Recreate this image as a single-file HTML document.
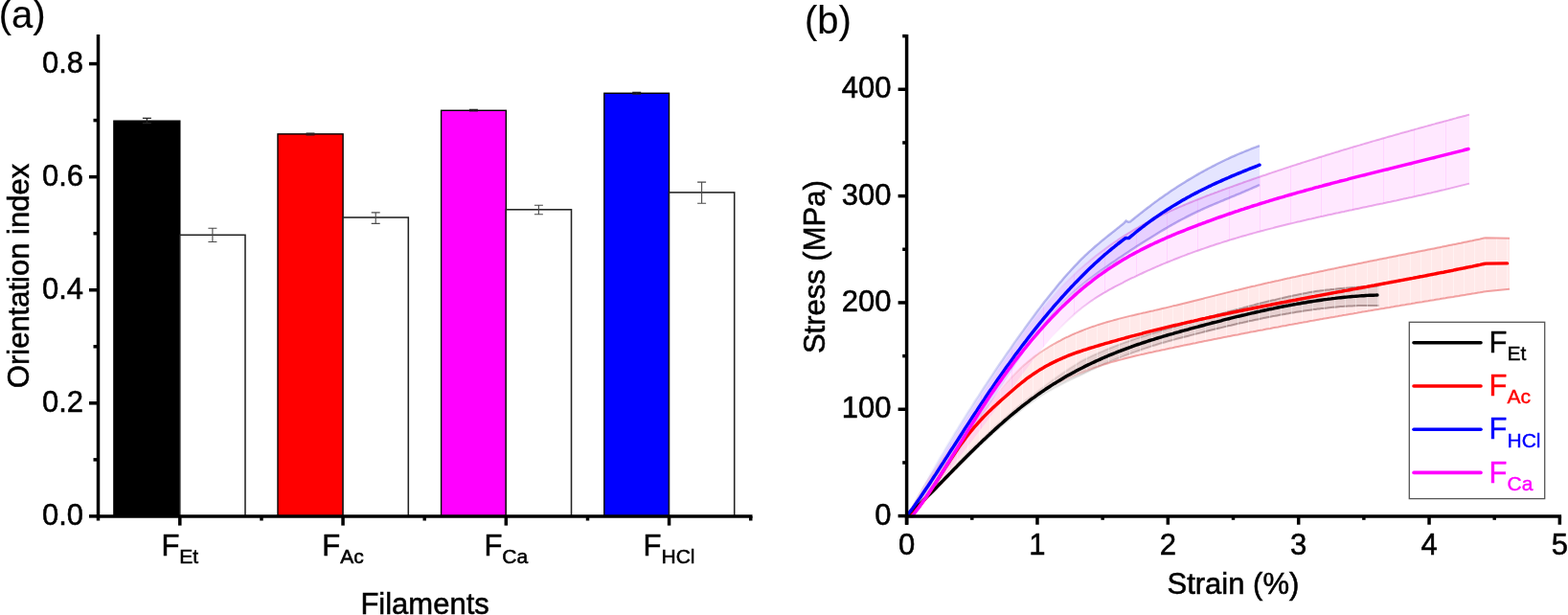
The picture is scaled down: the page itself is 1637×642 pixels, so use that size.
<!DOCTYPE html>
<html><head><meta charset="utf-8"><title>Figure</title>
<style>html,body{margin:0;padding:0;background:#fff;}svg{display:block;}text{font-family:'Liberation Sans', Arial, sans-serif;fill:#000;stroke:#000;stroke-width:0.55px;}</style></head><body>
<svg width="1637" height="642" viewBox="0 0 1637 642">
<rect width="1637" height="642" fill="#fff"/>
<rect x="118.9" y="126.2" width="68.9" height="412.7" fill="#000000" stroke="#000" stroke-width="1.4"/>
<rect x="187.8" y="245.3" width="68.2" height="293.6" fill="#fff" stroke="#222" stroke-width="1.55"/>
<path d="M221.9,238.3V252.5M217.4,238.3H226.4M217.4,252.5H226.4" stroke="#4a4a4a" stroke-width="1.1" fill="none"/>
<path d="M153.4,123.4V128.6M148.9,123.4H157.9M148.9,128.6H157.9" stroke="#222" stroke-width="1.2" fill="none"/>
<rect x="290.0" y="139.9" width="68.1" height="399.0" fill="#ff0000" stroke="#000" stroke-width="1.4"/>
<rect x="358.1" y="227.0" width="68.2" height="311.9" fill="#fff" stroke="#222" stroke-width="1.55"/>
<path d="M392.2,221.9V233.4M387.7,221.9H396.7M387.7,233.4H396.7" stroke="#4a4a4a" stroke-width="1.1" fill="none"/>
<path d="M324.0,139.2V141.0M319.5,139.2H328.5M319.5,141.0H328.5" stroke="#222" stroke-width="1.2" fill="none"/>
<rect x="460.6" y="115.3" width="67.7" height="423.6" fill="#ff00ff" stroke="#000" stroke-width="1.4"/>
<rect x="528.3" y="218.8" width="68.2" height="320.1" fill="#fff" stroke="#222" stroke-width="1.55"/>
<path d="M562.4,214.3V223.8M557.9,214.3H566.9M557.9,223.8H566.9" stroke="#4a4a4a" stroke-width="1.1" fill="none"/>
<path d="M494.4,114.3V115.9M489.9,114.3H498.9M489.9,115.9H498.9" stroke="#222" stroke-width="1.2" fill="none"/>
<rect x="630.8" y="97.3" width="67.7" height="441.6" fill="#0000ff" stroke="#000" stroke-width="1.4"/>
<rect x="698.5" y="200.9" width="68.2" height="338.0" fill="#fff" stroke="#222" stroke-width="1.55"/>
<path d="M732.6,190.1V212.3M728.1,190.1H737.1M728.1,212.3H737.1" stroke="#4a4a4a" stroke-width="1.1" fill="none"/>
<path d="M664.7,96.4V98.2M660.2,96.4H669.2M660.2,98.2H669.2" stroke="#222" stroke-width="1.2" fill="none"/>
<path d="M102.50,36V543.5" stroke="#000" stroke-width="3.5" fill="none"/>
<path d="M100.75,538.90H785.5" stroke="#000" stroke-width="3.5" fill="none"/>
<path d="M93,538.90H102.50" stroke="#000" stroke-width="3.5"/>
<text x="87" y="548.40" text-anchor="end" font-size="31">0.0</text>
<path d="M93,420.82H102.50" stroke="#000" stroke-width="3.5"/>
<text x="87" y="430.32" text-anchor="end" font-size="31">0.2</text>
<path d="M93,302.74H102.50" stroke="#000" stroke-width="3.5"/>
<text x="87" y="312.24" text-anchor="end" font-size="31">0.4</text>
<path d="M93,184.66H102.50" stroke="#000" stroke-width="3.5"/>
<text x="87" y="194.16" text-anchor="end" font-size="31">0.6</text>
<path d="M93,66.58H102.50" stroke="#000" stroke-width="3.5"/>
<text x="87" y="76.08" text-anchor="end" font-size="31">0.8</text>
<path d="M97.5,479.86H102.50" stroke="#000" stroke-width="3.5"/>
<path d="M97.5,361.78H102.50" stroke="#000" stroke-width="3.5"/>
<path d="M97.5,243.70H102.50" stroke="#000" stroke-width="3.5"/>
<path d="M97.5,125.62H102.50" stroke="#000" stroke-width="3.5"/>
<path d="M187.80,538.90V548.6" stroke="#000" stroke-width="3.5"/>
<path d="M358.05,538.90V548.6" stroke="#000" stroke-width="3.5"/>
<path d="M528.30,538.90V548.6" stroke="#000" stroke-width="3.5"/>
<path d="M698.55,538.90V548.6" stroke="#000" stroke-width="3.5"/>
<path d="M273.00,538.90V543.5" stroke="#000" stroke-width="3.5"/>
<path d="M443.25,538.90V543.5" stroke="#000" stroke-width="3.5"/>
<path d="M613.50,538.90V543.5" stroke="#000" stroke-width="3.5"/>
<path d="M783.75,538.90V543.5" stroke="#000" stroke-width="3.5"/>
<text x="187.80" y="580" text-anchor="middle" font-size="31">F<tspan font-size="21" dy="8.2">Et</tspan></text>
<text x="358.05" y="580" text-anchor="middle" font-size="31">F<tspan font-size="21" dy="8.2">Ac</tspan></text>
<text x="528.30" y="580" text-anchor="middle" font-size="31">F<tspan font-size="21" dy="8.2">Ca</tspan></text>
<text x="698.55" y="580" text-anchor="middle" font-size="31">F<tspan font-size="21" dy="8.2">HCl</tspan></text>
<text x="443.6" y="641" text-anchor="middle" font-size="31">Filaments</text>
<text transform="translate(29.7,288) rotate(-90)" x="0" y="0" text-anchor="middle" font-size="31">Orientation index</text>
<text x="-1.3" y="29.4" font-size="40" style="stroke-width:0.15px">(a)</text>
<path d="M946.6,538.1 L948.6,536.2 L950.6,534.3 L952.6,532.4 L954.7,530.4 L956.7,528.4 L958.7,526.4 L960.7,524.4 L962.7,522.3 L964.7,520.3 L966.7,518.2 L968.7,516.1 L970.8,513.9 L972.8,511.8 L974.8,509.6 L976.8,507.5 L978.8,505.3 L980.8,503.1 L982.8,500.9 L984.9,498.7 L986.9,496.5 L988.9,494.3 L990.9,492.1 L992.9,490.0 L994.9,487.8 L996.9,485.6 L999.0,483.4 L1001.0,481.3 L1003.0,479.3 L1005.0,477.2 L1007.0,475.2 L1009.0,473.1 L1011.0,471.1 L1013.0,469.1 L1015.1,467.1 L1017.1,465.1 L1019.1,463.1 L1021.1,461.1 L1023.1,459.2 L1025.1,457.2 L1027.1,455.3 L1029.2,453.4 L1031.2,451.5 L1033.2,449.6 L1035.2,447.7 L1037.2,445.8 L1039.2,443.9 L1041.2,442.1 L1043.2,440.3 L1045.3,438.5 L1047.3,436.7 L1049.3,434.9 L1051.3,433.1 L1053.3,431.4 L1055.3,429.7 L1057.3,428.0 L1059.4,426.3 L1061.4,424.6 L1063.4,422.9 L1065.4,421.3 L1067.4,419.7 L1069.4,418.1 L1071.4,416.5 L1073.5,414.9 L1075.5,413.4 L1077.5,411.9 L1079.5,410.4 L1081.5,408.9 L1083.5,407.5 L1085.5,406.0 L1087.5,404.6 L1089.6,403.2 L1091.6,401.7 L1093.6,400.2 L1095.6,398.8 L1097.6,397.3 L1099.6,395.9 L1101.6,394.5 L1103.7,393.1 L1105.7,391.7 L1107.7,390.3 L1109.7,389.0 L1111.7,387.7 L1113.7,386.4 L1115.7,385.1 L1117.7,383.8 L1119.8,382.5 L1121.8,381.3 L1123.8,380.1 L1125.8,378.8 L1127.8,377.6 L1129.8,376.5 L1131.8,375.5 L1133.9,374.5 L1135.9,373.5 L1137.9,372.6 L1139.9,371.6 L1141.9,370.7 L1143.9,369.8 L1145.9,368.9 L1148.0,368.0 L1150.0,367.2 L1152.0,366.3 L1154.0,365.4 L1156.0,364.6 L1158.0,363.8 L1160.0,363.0 L1162.0,362.2 L1164.1,361.4 L1166.1,360.6 L1168.1,359.9 L1170.1,359.1 L1172.1,358.4 L1174.1,357.6 L1176.1,356.9 L1178.2,356.2 L1180.2,355.5 L1182.2,354.8 L1184.2,354.1 L1186.2,353.4 L1188.2,352.8 L1190.2,352.1 L1192.2,351.5 L1194.3,350.8 L1196.3,350.2 L1198.3,349.5 L1200.3,348.9 L1202.3,348.3 L1204.3,347.7 L1206.3,347.1 L1208.4,346.5 L1210.4,345.9 L1212.4,345.3 L1214.4,344.6 L1216.4,344.0 L1218.4,343.4 L1220.4,342.8 L1222.5,342.2 L1224.5,341.6 L1226.5,341.0 L1228.5,340.4 L1230.5,339.8 L1232.5,339.2 L1234.5,338.6 L1236.5,338.0 L1238.6,337.5 L1240.6,336.9 L1242.6,336.3 L1244.6,335.8 L1246.6,335.2 L1248.6,334.6 L1250.6,334.1 L1252.7,333.5 L1254.7,332.9 L1256.7,332.4 L1258.7,331.8 L1260.7,331.3 L1262.7,330.7 L1264.7,330.2 L1266.8,329.6 L1268.8,329.1 L1270.8,328.5 L1272.8,328.0 L1274.8,327.4 L1276.8,326.9 L1278.8,326.4 L1280.8,325.8 L1282.9,325.3 L1284.9,324.8 L1286.9,324.3 L1288.9,323.7 L1290.9,323.2 L1292.9,322.7 L1294.9,322.1 L1297.0,321.6 L1299.0,321.0 L1301.0,320.5 L1303.0,319.9 L1305.0,319.4 L1307.0,318.9 L1309.0,318.4 L1311.0,317.8 L1313.1,317.3 L1315.1,316.8 L1317.1,316.3 L1319.1,315.8 L1321.1,315.3 L1323.1,314.8 L1325.1,314.3 L1327.2,313.8 L1329.2,313.3 L1331.2,312.9 L1333.2,312.4 L1335.2,311.9 L1337.2,311.4 L1339.2,311.0 L1341.3,310.5 L1343.3,310.1 L1345.3,309.6 L1347.3,309.2 L1349.3,308.8 L1351.3,308.3 L1353.3,307.9 L1355.3,307.5 L1357.4,307.1 L1359.4,306.7 L1361.4,306.3 L1363.4,305.9 L1365.4,305.5 L1367.4,305.1 L1369.4,304.7 L1371.5,304.4 L1373.5,304.1 L1375.5,303.8 L1377.5,303.6 L1379.5,303.3 L1381.5,303.1 L1383.5,302.8 L1385.5,302.6 L1387.6,302.4 L1389.6,302.1 L1391.6,301.9 L1393.6,301.7 L1395.6,301.5 L1397.6,301.3 L1399.6,301.1 L1401.7,300.9 L1403.7,300.7 L1405.7,300.6 L1407.7,300.4 L1409.7,300.2 L1411.7,300.0 L1413.7,299.9 L1415.8,299.7 L1417.8,299.6 L1419.8,299.4 L1421.8,299.3 L1423.8,299.2 L1425.8,299.0 L1427.8,298.9 L1429.8,298.8 L1431.9,298.7 L1433.9,298.7 L1435.9,298.6 L1437.9,298.5 L1439.4,298.5 L1439.4,318.9 L1437.9,318.9 L1435.9,318.9 L1433.9,318.9 L1431.9,318.9 L1429.8,318.9 L1427.8,318.9 L1425.8,318.9 L1423.8,319.0 L1421.8,319.0 L1419.8,319.1 L1417.8,319.1 L1415.8,319.2 L1413.7,319.3 L1411.7,319.4 L1409.7,319.4 L1407.7,319.5 L1405.7,319.7 L1403.7,319.8 L1401.7,320.0 L1399.6,320.1 L1397.6,320.3 L1395.6,320.5 L1393.6,320.7 L1391.6,320.8 L1389.6,321.0 L1387.6,321.2 L1385.5,321.5 L1383.5,321.7 L1381.5,321.9 L1379.5,322.1 L1377.5,322.4 L1375.5,322.6 L1373.5,322.9 L1371.5,323.1 L1369.4,323.4 L1367.4,323.7 L1365.4,324.0 L1363.4,324.3 L1361.4,324.6 L1359.4,324.9 L1357.4,325.2 L1355.3,325.5 L1353.3,325.8 L1351.3,326.2 L1349.3,326.5 L1347.3,326.8 L1345.3,327.2 L1343.3,327.5 L1341.3,327.9 L1339.2,328.3 L1337.2,328.6 L1335.2,329.0 L1333.2,329.4 L1331.2,329.8 L1329.2,330.1 L1327.2,330.5 L1325.1,330.9 L1323.1,331.3 L1321.1,331.7 L1319.1,332.1 L1317.1,332.6 L1315.1,333.0 L1313.1,333.4 L1311.0,333.8 L1309.0,334.2 L1307.0,334.7 L1305.0,335.1 L1303.0,335.5 L1301.0,336.0 L1299.0,336.4 L1297.0,336.9 L1294.9,337.3 L1292.9,337.8 L1290.9,338.2 L1288.9,338.7 L1286.9,339.2 L1284.9,339.7 L1282.9,340.1 L1280.8,340.6 L1278.8,341.1 L1276.8,341.6 L1274.8,342.1 L1272.8,342.6 L1270.8,343.0 L1268.8,343.5 L1266.8,344.0 L1264.7,344.5 L1262.7,345.0 L1260.7,345.5 L1258.7,346.0 L1256.7,346.5 L1254.7,347.1 L1252.7,347.6 L1250.6,348.1 L1248.6,348.6 L1246.6,349.1 L1244.6,349.6 L1242.6,350.1 L1240.6,350.7 L1238.6,351.2 L1236.5,351.7 L1234.5,352.2 L1232.5,352.8 L1230.5,353.3 L1228.5,353.8 L1226.5,354.4 L1224.5,354.9 L1222.5,355.5 L1220.4,356.0 L1218.4,356.6 L1216.4,357.2 L1214.4,357.8 L1212.4,358.3 L1210.4,358.9 L1208.4,359.5 L1206.3,360.2 L1204.3,360.8 L1202.3,361.4 L1200.3,362.1 L1198.3,362.8 L1196.3,363.4 L1194.3,364.1 L1192.2,364.8 L1190.2,365.5 L1188.2,366.2 L1186.2,366.9 L1184.2,367.6 L1182.2,368.3 L1180.2,369.1 L1178.2,369.8 L1176.1,370.5 L1174.1,371.3 L1172.1,372.1 L1170.1,372.9 L1168.1,373.7 L1166.1,374.5 L1164.1,375.3 L1162.0,376.1 L1160.0,376.9 L1158.0,377.8 L1156.0,378.6 L1154.0,379.5 L1152.0,380.4 L1150.0,381.3 L1148.0,382.2 L1145.9,383.1 L1143.9,384.0 L1141.9,385.0 L1139.9,385.9 L1137.9,386.9 L1135.9,387.9 L1133.9,388.9 L1131.8,389.9 L1129.8,390.9 L1127.8,391.8 L1125.8,392.8 L1123.8,393.7 L1121.8,394.7 L1119.8,395.6 L1117.7,396.6 L1115.7,397.6 L1113.7,398.6 L1111.7,399.7 L1109.7,400.7 L1107.7,401.8 L1105.7,402.9 L1103.7,404.0 L1101.6,405.1 L1099.6,406.2 L1097.6,407.4 L1095.6,408.5 L1093.6,409.7 L1091.6,410.9 L1089.6,412.2 L1087.5,413.5 L1085.5,414.9 L1083.5,416.3 L1081.5,417.7 L1079.5,419.2 L1077.5,420.6 L1075.5,422.1 L1073.5,423.6 L1071.4,425.1 L1069.4,426.6 L1067.4,428.2 L1065.4,429.7 L1063.4,431.3 L1061.4,432.9 L1059.4,434.6 L1057.3,436.2 L1055.3,437.9 L1053.3,439.6 L1051.3,441.3 L1049.3,443.0 L1047.3,444.7 L1045.3,446.5 L1043.2,448.2 L1041.2,450.0 L1039.2,451.8 L1037.2,453.6 L1035.2,455.5 L1033.2,457.3 L1031.2,459.1 L1029.2,461.0 L1027.1,462.9 L1025.1,464.8 L1023.1,466.7 L1021.1,468.6 L1019.1,470.5 L1017.1,472.5 L1015.1,474.4 L1013.0,476.4 L1011.0,478.3 L1009.0,480.3 L1007.0,482.3 L1005.0,484.3 L1003.0,486.3 L1001.0,488.3 L999.0,490.3 L996.9,492.3 L994.9,494.2 L992.9,496.2 L990.9,498.1 L988.9,500.1 L986.9,502.1 L984.9,504.0 L982.8,506.0 L980.8,508.0 L978.8,509.9 L976.8,511.9 L974.8,513.8 L972.8,515.8 L970.8,517.7 L968.7,519.6 L966.7,521.5 L964.7,523.3 L962.7,525.2 L960.7,527.0 L958.7,528.8 L956.7,530.6 L954.7,532.4 L952.6,534.1 L950.6,535.8 L948.6,537.5 L946.6,539.1 Z" fill="#000000" fill-opacity="0.100" stroke="none"/>
<linearGradient id="g1" gradientUnits="userSpaceOnUse" x1="1080.0" y1="0" x2="1260.0" y2="0"><stop offset="0" stop-color="#221111" stop-opacity="0"/><stop offset="1" stop-color="#221111" stop-opacity="0.36"/></linearGradient>
<linearGradient id="g2" gradientUnits="userSpaceOnUse" x1="1080.0" y1="0" x2="1260.0" y2="0"><stop offset="0" stop-color="#221111" stop-opacity="0"/><stop offset="1" stop-color="#221111" stop-opacity="0.36"/></linearGradient>
<path d="M946.6,538.1 L948.6,536.2 L950.6,534.3 L952.6,532.4 L954.7,530.4 L956.7,528.4 L958.7,526.4 L960.7,524.4 L962.7,522.3 L964.7,520.3 L966.7,518.2 L968.7,516.1 L970.8,513.9 L972.8,511.8 L974.8,509.6 L976.8,507.5 L978.8,505.3 L980.8,503.1 L982.8,500.9 L984.9,498.7 L986.9,496.5 L988.9,494.3 L990.9,492.1 L992.9,490.0 L994.9,487.8 L996.9,485.6 L999.0,483.4 L1001.0,481.3 L1003.0,479.3 L1005.0,477.2 L1007.0,475.2 L1009.0,473.1 L1011.0,471.1 L1013.0,469.1 L1015.1,467.1 L1017.1,465.1 L1019.1,463.1 L1021.1,461.1 L1023.1,459.2 L1025.1,457.2 L1027.1,455.3 L1029.2,453.4 L1031.2,451.5 L1033.2,449.6 L1035.2,447.7 L1037.2,445.8 L1039.2,443.9 L1041.2,442.1 L1043.2,440.3 L1045.3,438.5 L1047.3,436.7 L1049.3,434.9 L1051.3,433.1 L1053.3,431.4 L1055.3,429.7 L1057.3,428.0 L1059.4,426.3 L1061.4,424.6 L1063.4,422.9 L1065.4,421.3 L1067.4,419.7 L1069.4,418.1 L1071.4,416.5 L1073.5,414.9 L1075.5,413.4 L1077.5,411.9 L1079.5,410.4 L1081.5,408.9 L1083.5,407.5 L1085.5,406.0 L1087.5,404.6 L1089.6,403.2 L1091.6,401.7 L1093.6,400.2 L1095.6,398.8 L1097.6,397.3 L1099.6,395.9 L1101.6,394.5 L1103.7,393.1 L1105.7,391.7 L1107.7,390.3 L1109.7,389.0 L1111.7,387.7 L1113.7,386.4 L1115.7,385.1 L1117.7,383.8 L1119.8,382.5 L1121.8,381.3 L1123.8,380.1 L1125.8,378.8 L1127.8,377.6 L1129.8,376.5 L1131.8,375.5 L1133.9,374.5 L1135.9,373.5 L1137.9,372.6 L1139.9,371.6 L1141.9,370.7 L1143.9,369.8 L1145.9,368.9 L1148.0,368.0 L1150.0,367.2 L1152.0,366.3 L1154.0,365.4 L1156.0,364.6 L1158.0,363.8 L1160.0,363.0 L1162.0,362.2 L1164.1,361.4 L1166.1,360.6 L1168.1,359.9 L1170.1,359.1 L1172.1,358.4 L1174.1,357.6 L1176.1,356.9 L1178.2,356.2 L1180.2,355.5 L1182.2,354.8 L1184.2,354.1 L1186.2,353.4 L1188.2,352.8 L1190.2,352.1 L1192.2,351.5 L1194.3,350.8 L1196.3,350.2 L1198.3,349.5 L1200.3,348.9 L1202.3,348.3 L1204.3,347.7 L1206.3,347.1 L1208.4,346.5 L1210.4,345.9 L1212.4,345.3 L1214.4,344.6 L1216.4,344.0 L1218.4,343.4 L1220.4,342.8 L1222.5,342.2 L1224.5,341.6 L1226.5,341.0 L1228.5,340.4 L1230.5,339.8 L1232.5,339.2 L1234.5,338.6 L1236.5,338.0 L1238.6,337.5 L1240.6,336.9 L1242.6,336.3 L1244.6,335.8 L1246.6,335.2 L1248.6,334.6 L1250.6,334.1 L1252.7,333.5 L1254.7,332.9 L1256.7,332.4 L1258.7,331.8 L1260.7,331.3 L1262.7,330.7 L1264.7,330.2 L1266.8,329.6 L1268.8,329.1 L1270.8,328.5 L1272.8,328.0 L1274.8,327.4 L1276.8,326.9 L1278.8,326.4 L1280.8,325.8 L1282.9,325.3 L1284.9,324.8 L1286.9,324.3 L1288.9,323.7 L1290.9,323.2 L1292.9,322.7 L1294.9,322.1 L1297.0,321.6 L1299.0,321.0 L1301.0,320.5 L1303.0,319.9 L1305.0,319.4 L1307.0,318.9 L1309.0,318.4 L1311.0,317.8 L1313.1,317.3 L1315.1,316.8 L1317.1,316.3 L1319.1,315.8 L1321.1,315.3 L1323.1,314.8 L1325.1,314.3 L1327.2,313.8 L1329.2,313.3 L1331.2,312.9 L1333.2,312.4 L1335.2,311.9 L1337.2,311.4 L1339.2,311.0 L1341.3,310.5 L1343.3,310.1 L1345.3,309.6 L1347.3,309.2 L1349.3,308.8 L1351.3,308.3 L1353.3,307.9 L1355.3,307.5 L1357.4,307.1 L1359.4,306.7 L1361.4,306.3 L1363.4,305.9 L1365.4,305.5 L1367.4,305.1 L1369.4,304.7 L1371.5,304.4 L1373.5,304.1 L1375.5,303.8 L1377.5,303.6 L1379.5,303.3 L1381.5,303.1 L1383.5,302.8 L1385.5,302.6 L1387.6,302.4 L1389.6,302.1 L1391.6,301.9 L1393.6,301.7 L1395.6,301.5 L1397.6,301.3 L1399.6,301.1 L1401.7,300.9 L1403.7,300.7 L1405.7,300.6 L1407.7,300.4 L1409.7,300.2 L1411.7,300.0 L1413.7,299.9 L1415.8,299.7 L1417.8,299.6 L1419.8,299.4 L1421.8,299.3 L1423.8,299.2 L1425.8,299.0 L1427.8,298.9 L1429.8,298.8 L1431.9,298.7 L1433.9,298.7 L1435.9,298.6 L1437.9,298.5 L1439.4,298.5" fill="none" stroke="url(#g1)" stroke-width="2.0"/>
<path d="M946.6,539.1 L948.6,537.5 L950.6,535.8 L952.6,534.1 L954.7,532.4 L956.7,530.6 L958.7,528.8 L960.7,527.0 L962.7,525.2 L964.7,523.3 L966.7,521.5 L968.7,519.6 L970.8,517.7 L972.8,515.8 L974.8,513.8 L976.8,511.9 L978.8,509.9 L980.8,508.0 L982.8,506.0 L984.9,504.0 L986.9,502.1 L988.9,500.1 L990.9,498.1 L992.9,496.2 L994.9,494.2 L996.9,492.3 L999.0,490.3 L1001.0,488.3 L1003.0,486.3 L1005.0,484.3 L1007.0,482.3 L1009.0,480.3 L1011.0,478.3 L1013.0,476.4 L1015.1,474.4 L1017.1,472.5 L1019.1,470.5 L1021.1,468.6 L1023.1,466.7 L1025.1,464.8 L1027.1,462.9 L1029.2,461.0 L1031.2,459.1 L1033.2,457.3 L1035.2,455.5 L1037.2,453.6 L1039.2,451.8 L1041.2,450.0 L1043.2,448.2 L1045.3,446.5 L1047.3,444.7 L1049.3,443.0 L1051.3,441.3 L1053.3,439.6 L1055.3,437.9 L1057.3,436.2 L1059.4,434.6 L1061.4,432.9 L1063.4,431.3 L1065.4,429.7 L1067.4,428.2 L1069.4,426.6 L1071.4,425.1 L1073.5,423.6 L1075.5,422.1 L1077.5,420.6 L1079.5,419.2 L1081.5,417.7 L1083.5,416.3 L1085.5,414.9 L1087.5,413.5 L1089.6,412.2 L1091.6,410.9 L1093.6,409.7 L1095.6,408.5 L1097.6,407.4 L1099.6,406.2 L1101.6,405.1 L1103.7,404.0 L1105.7,402.9 L1107.7,401.8 L1109.7,400.7 L1111.7,399.7 L1113.7,398.6 L1115.7,397.6 L1117.7,396.6 L1119.8,395.6 L1121.8,394.7 L1123.8,393.7 L1125.8,392.8 L1127.8,391.8 L1129.8,390.9 L1131.8,389.9 L1133.9,388.9 L1135.9,387.9 L1137.9,386.9 L1139.9,385.9 L1141.9,385.0 L1143.9,384.0 L1145.9,383.1 L1148.0,382.2 L1150.0,381.3 L1152.0,380.4 L1154.0,379.5 L1156.0,378.6 L1158.0,377.8 L1160.0,376.9 L1162.0,376.1 L1164.1,375.3 L1166.1,374.5 L1168.1,373.7 L1170.1,372.9 L1172.1,372.1 L1174.1,371.3 L1176.1,370.5 L1178.2,369.8 L1180.2,369.1 L1182.2,368.3 L1184.2,367.6 L1186.2,366.9 L1188.2,366.2 L1190.2,365.5 L1192.2,364.8 L1194.3,364.1 L1196.3,363.4 L1198.3,362.8 L1200.3,362.1 L1202.3,361.4 L1204.3,360.8 L1206.3,360.2 L1208.4,359.5 L1210.4,358.9 L1212.4,358.3 L1214.4,357.8 L1216.4,357.2 L1218.4,356.6 L1220.4,356.0 L1222.5,355.5 L1224.5,354.9 L1226.5,354.4 L1228.5,353.8 L1230.5,353.3 L1232.5,352.8 L1234.5,352.2 L1236.5,351.7 L1238.6,351.2 L1240.6,350.7 L1242.6,350.1 L1244.6,349.6 L1246.6,349.1 L1248.6,348.6 L1250.6,348.1 L1252.7,347.6 L1254.7,347.1 L1256.7,346.5 L1258.7,346.0 L1260.7,345.5 L1262.7,345.0 L1264.7,344.5 L1266.8,344.0 L1268.8,343.5 L1270.8,343.0 L1272.8,342.6 L1274.8,342.1 L1276.8,341.6 L1278.8,341.1 L1280.8,340.6 L1282.9,340.1 L1284.9,339.7 L1286.9,339.2 L1288.9,338.7 L1290.9,338.2 L1292.9,337.8 L1294.9,337.3 L1297.0,336.9 L1299.0,336.4 L1301.0,336.0 L1303.0,335.5 L1305.0,335.1 L1307.0,334.7 L1309.0,334.2 L1311.0,333.8 L1313.1,333.4 L1315.1,333.0 L1317.1,332.6 L1319.1,332.1 L1321.1,331.7 L1323.1,331.3 L1325.1,330.9 L1327.2,330.5 L1329.2,330.1 L1331.2,329.8 L1333.2,329.4 L1335.2,329.0 L1337.2,328.6 L1339.2,328.3 L1341.3,327.9 L1343.3,327.5 L1345.3,327.2 L1347.3,326.8 L1349.3,326.5 L1351.3,326.2 L1353.3,325.8 L1355.3,325.5 L1357.4,325.2 L1359.4,324.9 L1361.4,324.6 L1363.4,324.3 L1365.4,324.0 L1367.4,323.7 L1369.4,323.4 L1371.5,323.1 L1373.5,322.9 L1375.5,322.6 L1377.5,322.4 L1379.5,322.1 L1381.5,321.9 L1383.5,321.7 L1385.5,321.5 L1387.6,321.2 L1389.6,321.0 L1391.6,320.8 L1393.6,320.7 L1395.6,320.5 L1397.6,320.3 L1399.6,320.1 L1401.7,320.0 L1403.7,319.8 L1405.7,319.7 L1407.7,319.5 L1409.7,319.4 L1411.7,319.4 L1413.7,319.3 L1415.8,319.2 L1417.8,319.1 L1419.8,319.1 L1421.8,319.0 L1423.8,319.0 L1425.8,318.9 L1427.8,318.9 L1429.8,318.9 L1431.9,318.9 L1433.9,318.9 L1435.9,318.9 L1437.9,318.9 L1439.4,318.9" fill="none" stroke="url(#g2)" stroke-width="2.0"/>
<path d="M946.6,538.6 L948.6,534.5 L950.6,530.5 L952.6,526.6 L954.6,522.8 L956.6,519.2 L958.7,515.6 L960.7,512.2 L962.7,508.8 L964.7,505.6 L966.7,502.4 L968.7,499.3 L970.7,496.3 L972.7,493.3 L974.7,490.5 L976.7,487.7 L978.7,484.9 L980.7,482.2 L982.8,479.6 L984.8,477.0 L986.8,474.5 L988.8,472.0 L990.8,469.5 L992.8,467.1 L994.8,464.7 L996.8,462.3 L998.8,459.9 L1000.8,457.6 L1002.8,455.3 L1004.9,453.0 L1006.9,450.7 L1008.9,448.4 L1010.9,446.1 L1012.9,443.9 L1014.9,441.6 L1016.9,439.2 L1018.9,436.9 L1020.9,434.6 L1022.9,432.2 L1024.9,429.8 L1026.9,427.5 L1029.0,425.1 L1031.0,422.7 L1033.0,420.3 L1035.0,417.9 L1037.0,415.5 L1039.0,413.1 L1041.0,410.7 L1043.0,408.4 L1045.0,406.1 L1047.0,403.7 L1049.0,401.5 L1051.0,399.2 L1053.1,397.0 L1055.1,394.9 L1057.1,392.8 L1059.1,390.7 L1061.1,388.7 L1063.1,386.7 L1065.1,384.8 L1067.1,382.9 L1069.1,381.1 L1071.1,379.4 L1073.1,377.7 L1075.2,376.1 L1077.2,374.5 L1079.2,372.9 L1081.2,371.4 L1083.2,370.0 L1085.2,368.5 L1087.2,367.2 L1089.2,365.8 L1091.2,364.5 L1093.2,363.3 L1095.2,362.0 L1097.2,360.8 L1099.3,359.7 L1101.3,358.5 L1103.3,357.4 L1105.3,356.3 L1107.3,355.3 L1109.3,354.2 L1111.3,353.2 L1113.3,352.2 L1115.3,351.3 L1117.3,350.3 L1119.3,349.4 L1121.4,348.5 L1123.4,347.7 L1125.4,346.8 L1127.4,346.0 L1129.4,345.2 L1131.4,344.4 L1133.4,343.6 L1135.4,342.9 L1137.4,342.1 L1139.4,341.4 L1141.4,340.7 L1143.4,340.1 L1145.5,339.4 L1147.5,338.7 L1149.5,338.1 L1151.5,337.5 L1153.5,336.9 L1155.5,336.3 L1157.5,335.7 L1159.5,335.1 L1161.5,334.6 L1163.5,334.0 L1165.5,333.5 L1167.6,332.9 L1169.6,332.4 L1171.6,331.9 L1173.6,331.4 L1175.6,330.9 L1177.6,330.4 L1179.6,329.9 L1181.6,329.4 L1183.6,329.0 L1185.6,328.5 L1187.6,328.0 L1189.6,327.6 L1191.7,327.1 L1193.7,326.6 L1195.7,326.2 L1197.7,325.7 L1199.7,325.3 L1201.7,324.8 L1203.7,324.4 L1205.7,323.9 L1207.7,323.4 L1209.7,323.0 L1211.7,322.5 L1213.7,322.0 L1215.8,321.6 L1217.8,321.1 L1219.8,320.6 L1221.8,320.1 L1223.8,319.6 L1225.8,319.1 L1227.8,318.7 L1229.8,318.2 L1231.8,317.7 L1233.8,317.2 L1235.8,316.7 L1237.9,316.2 L1239.9,315.7 L1241.9,315.2 L1243.9,314.7 L1245.9,314.2 L1247.9,313.7 L1249.9,313.2 L1251.9,312.7 L1253.9,312.2 L1255.9,311.7 L1257.9,311.1 L1259.9,310.6 L1262.0,310.1 L1264.0,309.6 L1266.0,309.1 L1268.0,308.6 L1270.0,308.1 L1272.0,307.6 L1274.0,307.1 L1276.0,306.6 L1278.0,306.1 L1280.0,305.6 L1282.0,305.1 L1284.1,304.6 L1286.1,304.1 L1288.1,303.6 L1290.1,303.1 L1292.1,302.7 L1294.1,302.2 L1296.1,301.7 L1298.1,301.2 L1300.1,300.7 L1302.1,300.2 L1304.1,299.8 L1306.1,299.3 L1308.2,298.8 L1310.2,298.4 L1312.2,297.9 L1314.2,297.4 L1316.2,297.0 L1318.2,296.5 L1320.2,296.0 L1322.2,295.6 L1324.2,295.1 L1326.2,294.7 L1328.2,294.2 L1330.2,293.8 L1332.3,293.3 L1334.3,292.9 L1336.3,292.4 L1338.3,292.0 L1340.3,291.5 L1342.3,291.1 L1344.3,290.6 L1346.3,290.2 L1348.3,289.7 L1350.3,289.3 L1352.3,288.9 L1354.4,288.4 L1356.4,288.0 L1358.4,287.6 L1360.4,287.1 L1362.4,286.7 L1364.4,286.3 L1366.4,285.9 L1368.4,285.4 L1370.4,285.0 L1372.4,284.6 L1374.4,284.2 L1376.4,283.7 L1378.5,283.3 L1380.5,282.9 L1382.5,282.5 L1384.5,282.1 L1386.5,281.6 L1388.5,281.2 L1390.5,280.8 L1392.5,280.4 L1394.5,280.0 L1396.5,279.6 L1398.5,279.1 L1400.6,278.7 L1402.6,278.3 L1404.6,277.9 L1406.6,277.5 L1408.6,277.1 L1410.6,276.7 L1412.6,276.3 L1414.6,275.9 L1416.6,275.5 L1418.6,275.1 L1420.6,274.7 L1422.6,274.3 L1424.7,273.8 L1426.7,273.4 L1428.7,273.0 L1430.7,272.6 L1432.7,272.2 L1434.7,271.8 L1436.7,271.4 L1438.7,271.0 L1440.7,270.6 L1442.7,270.2 L1444.7,269.8 L1446.8,269.4 L1448.8,269.0 L1450.8,268.6 L1452.8,268.2 L1454.8,267.8 L1456.8,267.4 L1458.8,267.0 L1460.8,266.6 L1462.8,266.2 L1464.8,265.8 L1466.8,265.4 L1468.8,265.0 L1470.9,264.6 L1472.9,264.2 L1474.9,263.8 L1476.9,263.4 L1478.9,263.0 L1480.9,262.6 L1482.9,262.2 L1484.9,261.8 L1486.9,261.4 L1488.9,261.0 L1490.9,260.6 L1492.9,260.2 L1495.0,259.8 L1497.0,259.4 L1499.0,259.0 L1501.0,258.6 L1503.0,258.2 L1505.0,257.8 L1507.0,257.3 L1509.0,256.9 L1511.0,256.5 L1513.0,256.1 L1515.0,255.7 L1517.1,255.3 L1519.1,254.9 L1521.1,254.5 L1523.1,254.1 L1525.1,253.7 L1527.1,253.2 L1529.1,252.8 L1531.1,252.4 L1533.1,252.0 L1535.1,251.6 L1537.1,251.2 L1539.1,250.7 L1541.2,250.3 L1543.2,249.9 L1545.2,249.5 L1547.2,249.0 L1549.2,248.6 L1551.2,248.2 L1576.0,248.8 L1576.0,301.8 L1551.2,304.3 L1549.2,304.6 L1547.2,304.9 L1545.2,305.3 L1543.2,305.6 L1541.2,305.9 L1539.1,306.3 L1537.1,306.6 L1535.1,306.9 L1533.1,307.2 L1531.1,307.6 L1529.1,307.9 L1527.1,308.2 L1525.1,308.5 L1523.1,308.9 L1521.1,309.2 L1519.1,309.5 L1517.1,309.9 L1515.0,310.2 L1513.0,310.5 L1511.0,310.8 L1509.0,311.2 L1507.0,311.5 L1505.0,311.8 L1503.0,312.2 L1501.0,312.5 L1499.0,312.8 L1497.0,313.2 L1495.0,313.5 L1492.9,313.8 L1490.9,314.2 L1488.9,314.5 L1486.9,314.8 L1484.9,315.2 L1482.9,315.5 L1480.9,315.8 L1478.9,316.1 L1476.9,316.5 L1474.9,316.8 L1472.9,317.2 L1470.9,317.5 L1468.8,317.8 L1466.8,318.2 L1464.8,318.5 L1462.8,318.8 L1460.8,319.2 L1458.8,319.5 L1456.8,319.8 L1454.8,320.2 L1452.8,320.5 L1450.8,320.9 L1448.8,321.2 L1446.8,321.5 L1444.7,321.9 L1442.7,322.2 L1440.7,322.6 L1438.7,322.9 L1436.7,323.2 L1434.7,323.6 L1432.7,323.9 L1430.7,324.3 L1428.7,324.6 L1426.7,324.9 L1424.7,325.3 L1422.6,325.6 L1420.6,326.0 L1418.6,326.3 L1416.6,326.7 L1414.6,327.0 L1412.6,327.4 L1410.6,327.7 L1408.6,328.1 L1406.6,328.4 L1404.6,328.8 L1402.6,329.1 L1400.6,329.5 L1398.5,329.8 L1396.5,330.2 L1394.5,330.5 L1392.5,330.9 L1390.5,331.2 L1388.5,331.6 L1386.5,331.9 L1384.5,332.3 L1382.5,332.6 L1380.5,333.0 L1378.5,333.3 L1376.4,333.7 L1374.4,334.1 L1372.4,334.4 L1370.4,334.8 L1368.4,335.1 L1366.4,335.5 L1364.4,335.9 L1362.4,336.2 L1360.4,336.6 L1358.4,336.9 L1356.4,337.3 L1354.4,337.7 L1352.3,338.0 L1350.3,338.4 L1348.3,338.8 L1346.3,339.1 L1344.3,339.5 L1342.3,339.9 L1340.3,340.2 L1338.3,340.6 L1336.3,341.0 L1334.3,341.4 L1332.3,341.7 L1330.2,342.1 L1328.2,342.5 L1326.2,342.9 L1324.2,343.2 L1322.2,343.6 L1320.2,344.0 L1318.2,344.4 L1316.2,344.7 L1314.2,345.1 L1312.2,345.5 L1310.2,345.9 L1308.2,346.3 L1306.1,346.6 L1304.1,347.0 L1302.1,347.4 L1300.1,347.8 L1298.1,348.2 L1296.1,348.6 L1294.1,349.0 L1292.1,349.4 L1290.1,349.7 L1288.1,350.1 L1286.1,350.5 L1284.1,350.9 L1282.0,351.3 L1280.0,351.7 L1278.0,352.1 L1276.0,352.5 L1274.0,352.9 L1272.0,353.3 L1270.0,353.7 L1268.0,354.1 L1266.0,354.5 L1264.0,354.9 L1262.0,355.3 L1259.9,355.7 L1257.9,356.1 L1255.9,356.5 L1253.9,356.9 L1251.9,357.3 L1249.9,357.7 L1247.9,358.2 L1245.9,358.6 L1243.9,359.0 L1241.9,359.4 L1239.9,359.8 L1237.9,360.2 L1235.8,360.6 L1233.8,361.1 L1231.8,361.5 L1229.8,361.9 L1227.8,362.3 L1225.8,362.7 L1223.8,363.2 L1221.8,363.6 L1219.8,364.0 L1217.8,364.4 L1215.8,364.9 L1213.7,365.3 L1211.7,365.7 L1209.7,366.2 L1207.7,366.6 L1205.7,367.0 L1203.7,367.5 L1201.7,367.9 L1199.7,368.3 L1197.7,368.8 L1195.7,369.2 L1193.7,369.7 L1191.7,370.1 L1189.6,370.6 L1187.6,371.1 L1185.6,371.5 L1183.6,372.0 L1181.6,372.5 L1179.6,373.0 L1177.6,373.5 L1175.6,374.0 L1173.6,374.5 L1171.6,375.1 L1169.6,375.6 L1167.6,376.1 L1165.5,376.7 L1163.5,377.3 L1161.5,377.9 L1159.5,378.4 L1157.5,379.0 L1155.5,379.7 L1153.5,380.3 L1151.5,380.9 L1149.5,381.6 L1147.5,382.3 L1145.5,382.9 L1143.4,383.6 L1141.4,384.3 L1139.4,385.1 L1137.4,385.8 L1135.4,386.6 L1133.4,387.4 L1131.4,388.2 L1129.4,389.0 L1127.4,389.8 L1125.4,390.7 L1123.4,391.5 L1121.4,392.4 L1119.3,393.3 L1117.3,394.3 L1115.3,395.2 L1113.3,396.2 L1111.3,397.2 L1109.3,398.2 L1107.3,399.2 L1105.3,400.3 L1103.3,401.4 L1101.3,402.5 L1099.3,403.6 L1097.2,404.8 L1095.2,406.0 L1093.2,407.2 L1091.2,408.4 L1089.2,409.7 L1087.2,411.0 L1085.2,412.3 L1083.2,413.6 L1081.2,415.0 L1079.2,416.4 L1077.2,417.9 L1075.2,419.3 L1073.1,420.8 L1071.1,422.3 L1069.1,423.9 L1067.1,425.4 L1065.1,427.0 L1063.1,428.6 L1061.1,430.3 L1059.1,432.0 L1057.1,433.6 L1055.1,435.4 L1053.1,437.1 L1051.0,438.8 L1049.0,440.6 L1047.0,442.4 L1045.0,444.2 L1043.0,446.1 L1041.0,447.9 L1039.0,449.8 L1037.0,451.7 L1035.0,453.6 L1033.0,455.6 L1031.0,457.5 L1029.0,459.5 L1026.9,461.5 L1024.9,463.5 L1022.9,465.5 L1020.9,467.5 L1018.9,469.5 L1016.9,471.6 L1014.9,473.6 L1012.9,475.7 L1010.9,477.8 L1008.9,479.9 L1006.9,482.0 L1004.9,484.1 L1002.8,486.1 L1000.8,488.2 L998.8,490.3 L996.8,492.4 L994.8,494.5 L992.8,496.6 L990.8,498.6 L988.8,500.7 L986.8,502.7 L984.8,504.8 L982.8,506.8 L980.7,508.8 L978.7,510.8 L976.7,512.7 L974.7,514.7 L972.7,516.6 L970.7,518.5 L968.7,520.3 L966.7,522.2 L964.7,524.0 L962.7,525.7 L960.7,527.5 L958.7,529.2 L956.6,530.9 L954.6,532.5 L952.6,534.1 L950.6,535.6 L948.6,537.1 L946.6,538.6 Z" fill="#ff0000" fill-opacity="0.085" stroke="none"/>
<clipPath id="c3"><path d="M946.6,538.6 L948.6,534.5 L950.6,530.5 L952.6,526.6 L954.6,522.8 L956.6,519.2 L958.7,515.6 L960.7,512.2 L962.7,508.8 L964.7,505.6 L966.7,502.4 L968.7,499.3 L970.7,496.3 L972.7,493.3 L974.7,490.5 L976.7,487.7 L978.7,484.9 L980.7,482.2 L982.8,479.6 L984.8,477.0 L986.8,474.5 L988.8,472.0 L990.8,469.5 L992.8,467.1 L994.8,464.7 L996.8,462.3 L998.8,459.9 L1000.8,457.6 L1002.8,455.3 L1004.9,453.0 L1006.9,450.7 L1008.9,448.4 L1010.9,446.1 L1012.9,443.9 L1014.9,441.6 L1016.9,439.2 L1018.9,436.9 L1020.9,434.6 L1022.9,432.2 L1024.9,429.8 L1026.9,427.5 L1029.0,425.1 L1031.0,422.7 L1033.0,420.3 L1035.0,417.9 L1037.0,415.5 L1039.0,413.1 L1041.0,410.7 L1043.0,408.4 L1045.0,406.1 L1047.0,403.7 L1049.0,401.5 L1051.0,399.2 L1053.1,397.0 L1055.1,394.9 L1057.1,392.8 L1059.1,390.7 L1061.1,388.7 L1063.1,386.7 L1065.1,384.8 L1067.1,382.9 L1069.1,381.1 L1071.1,379.4 L1073.1,377.7 L1075.2,376.1 L1077.2,374.5 L1079.2,372.9 L1081.2,371.4 L1083.2,370.0 L1085.2,368.5 L1087.2,367.2 L1089.2,365.8 L1091.2,364.5 L1093.2,363.3 L1095.2,362.0 L1097.2,360.8 L1099.3,359.7 L1101.3,358.5 L1103.3,357.4 L1105.3,356.3 L1107.3,355.3 L1109.3,354.2 L1111.3,353.2 L1113.3,352.2 L1115.3,351.3 L1117.3,350.3 L1119.3,349.4 L1121.4,348.5 L1123.4,347.7 L1125.4,346.8 L1127.4,346.0 L1129.4,345.2 L1131.4,344.4 L1133.4,343.6 L1135.4,342.9 L1137.4,342.1 L1139.4,341.4 L1141.4,340.7 L1143.4,340.1 L1145.5,339.4 L1147.5,338.7 L1149.5,338.1 L1151.5,337.5 L1153.5,336.9 L1155.5,336.3 L1157.5,335.7 L1159.5,335.1 L1161.5,334.6 L1163.5,334.0 L1165.5,333.5 L1167.6,332.9 L1169.6,332.4 L1171.6,331.9 L1173.6,331.4 L1175.6,330.9 L1177.6,330.4 L1179.6,329.9 L1181.6,329.4 L1183.6,329.0 L1185.6,328.5 L1187.6,328.0 L1189.6,327.6 L1191.7,327.1 L1193.7,326.6 L1195.7,326.2 L1197.7,325.7 L1199.7,325.3 L1201.7,324.8 L1203.7,324.4 L1205.7,323.9 L1207.7,323.4 L1209.7,323.0 L1211.7,322.5 L1213.7,322.0 L1215.8,321.6 L1217.8,321.1 L1219.8,320.6 L1221.8,320.1 L1223.8,319.6 L1225.8,319.1 L1227.8,318.7 L1229.8,318.2 L1231.8,317.7 L1233.8,317.2 L1235.8,316.7 L1237.9,316.2 L1239.9,315.7 L1241.9,315.2 L1243.9,314.7 L1245.9,314.2 L1247.9,313.7 L1249.9,313.2 L1251.9,312.7 L1253.9,312.2 L1255.9,311.7 L1257.9,311.1 L1259.9,310.6 L1262.0,310.1 L1264.0,309.6 L1266.0,309.1 L1268.0,308.6 L1270.0,308.1 L1272.0,307.6 L1274.0,307.1 L1276.0,306.6 L1278.0,306.1 L1280.0,305.6 L1282.0,305.1 L1284.1,304.6 L1286.1,304.1 L1288.1,303.6 L1290.1,303.1 L1292.1,302.7 L1294.1,302.2 L1296.1,301.7 L1298.1,301.2 L1300.1,300.7 L1302.1,300.2 L1304.1,299.8 L1306.1,299.3 L1308.2,298.8 L1310.2,298.4 L1312.2,297.9 L1314.2,297.4 L1316.2,297.0 L1318.2,296.5 L1320.2,296.0 L1322.2,295.6 L1324.2,295.1 L1326.2,294.7 L1328.2,294.2 L1330.2,293.8 L1332.3,293.3 L1334.3,292.9 L1336.3,292.4 L1338.3,292.0 L1340.3,291.5 L1342.3,291.1 L1344.3,290.6 L1346.3,290.2 L1348.3,289.7 L1350.3,289.3 L1352.3,288.9 L1354.4,288.4 L1356.4,288.0 L1358.4,287.6 L1360.4,287.1 L1362.4,286.7 L1364.4,286.3 L1366.4,285.9 L1368.4,285.4 L1370.4,285.0 L1372.4,284.6 L1374.4,284.2 L1376.4,283.7 L1378.5,283.3 L1380.5,282.9 L1382.5,282.5 L1384.5,282.1 L1386.5,281.6 L1388.5,281.2 L1390.5,280.8 L1392.5,280.4 L1394.5,280.0 L1396.5,279.6 L1398.5,279.1 L1400.6,278.7 L1402.6,278.3 L1404.6,277.9 L1406.6,277.5 L1408.6,277.1 L1410.6,276.7 L1412.6,276.3 L1414.6,275.9 L1416.6,275.5 L1418.6,275.1 L1420.6,274.7 L1422.6,274.3 L1424.7,273.8 L1426.7,273.4 L1428.7,273.0 L1430.7,272.6 L1432.7,272.2 L1434.7,271.8 L1436.7,271.4 L1438.7,271.0 L1440.7,270.6 L1442.7,270.2 L1444.7,269.8 L1446.8,269.4 L1448.8,269.0 L1450.8,268.6 L1452.8,268.2 L1454.8,267.8 L1456.8,267.4 L1458.8,267.0 L1460.8,266.6 L1462.8,266.2 L1464.8,265.8 L1466.8,265.4 L1468.8,265.0 L1470.9,264.6 L1472.9,264.2 L1474.9,263.8 L1476.9,263.4 L1478.9,263.0 L1480.9,262.6 L1482.9,262.2 L1484.9,261.8 L1486.9,261.4 L1488.9,261.0 L1490.9,260.6 L1492.9,260.2 L1495.0,259.8 L1497.0,259.4 L1499.0,259.0 L1501.0,258.6 L1503.0,258.2 L1505.0,257.8 L1507.0,257.3 L1509.0,256.9 L1511.0,256.5 L1513.0,256.1 L1515.0,255.7 L1517.1,255.3 L1519.1,254.9 L1521.1,254.5 L1523.1,254.1 L1525.1,253.7 L1527.1,253.2 L1529.1,252.8 L1531.1,252.4 L1533.1,252.0 L1535.1,251.6 L1537.1,251.2 L1539.1,250.7 L1541.2,250.3 L1543.2,249.9 L1545.2,249.5 L1547.2,249.0 L1549.2,248.6 L1551.2,248.2 L1576.0,248.8 L1576.0,301.8 L1551.2,304.3 L1549.2,304.6 L1547.2,304.9 L1545.2,305.3 L1543.2,305.6 L1541.2,305.9 L1539.1,306.3 L1537.1,306.6 L1535.1,306.9 L1533.1,307.2 L1531.1,307.6 L1529.1,307.9 L1527.1,308.2 L1525.1,308.5 L1523.1,308.9 L1521.1,309.2 L1519.1,309.5 L1517.1,309.9 L1515.0,310.2 L1513.0,310.5 L1511.0,310.8 L1509.0,311.2 L1507.0,311.5 L1505.0,311.8 L1503.0,312.2 L1501.0,312.5 L1499.0,312.8 L1497.0,313.2 L1495.0,313.5 L1492.9,313.8 L1490.9,314.2 L1488.9,314.5 L1486.9,314.8 L1484.9,315.2 L1482.9,315.5 L1480.9,315.8 L1478.9,316.1 L1476.9,316.5 L1474.9,316.8 L1472.9,317.2 L1470.9,317.5 L1468.8,317.8 L1466.8,318.2 L1464.8,318.5 L1462.8,318.8 L1460.8,319.2 L1458.8,319.5 L1456.8,319.8 L1454.8,320.2 L1452.8,320.5 L1450.8,320.9 L1448.8,321.2 L1446.8,321.5 L1444.7,321.9 L1442.7,322.2 L1440.7,322.6 L1438.7,322.9 L1436.7,323.2 L1434.7,323.6 L1432.7,323.9 L1430.7,324.3 L1428.7,324.6 L1426.7,324.9 L1424.7,325.3 L1422.6,325.6 L1420.6,326.0 L1418.6,326.3 L1416.6,326.7 L1414.6,327.0 L1412.6,327.4 L1410.6,327.7 L1408.6,328.1 L1406.6,328.4 L1404.6,328.8 L1402.6,329.1 L1400.6,329.5 L1398.5,329.8 L1396.5,330.2 L1394.5,330.5 L1392.5,330.9 L1390.5,331.2 L1388.5,331.6 L1386.5,331.9 L1384.5,332.3 L1382.5,332.6 L1380.5,333.0 L1378.5,333.3 L1376.4,333.7 L1374.4,334.1 L1372.4,334.4 L1370.4,334.8 L1368.4,335.1 L1366.4,335.5 L1364.4,335.9 L1362.4,336.2 L1360.4,336.6 L1358.4,336.9 L1356.4,337.3 L1354.4,337.7 L1352.3,338.0 L1350.3,338.4 L1348.3,338.8 L1346.3,339.1 L1344.3,339.5 L1342.3,339.9 L1340.3,340.2 L1338.3,340.6 L1336.3,341.0 L1334.3,341.4 L1332.3,341.7 L1330.2,342.1 L1328.2,342.5 L1326.2,342.9 L1324.2,343.2 L1322.2,343.6 L1320.2,344.0 L1318.2,344.4 L1316.2,344.7 L1314.2,345.1 L1312.2,345.5 L1310.2,345.9 L1308.2,346.3 L1306.1,346.6 L1304.1,347.0 L1302.1,347.4 L1300.1,347.8 L1298.1,348.2 L1296.1,348.6 L1294.1,349.0 L1292.1,349.4 L1290.1,349.7 L1288.1,350.1 L1286.1,350.5 L1284.1,350.9 L1282.0,351.3 L1280.0,351.7 L1278.0,352.1 L1276.0,352.5 L1274.0,352.9 L1272.0,353.3 L1270.0,353.7 L1268.0,354.1 L1266.0,354.5 L1264.0,354.9 L1262.0,355.3 L1259.9,355.7 L1257.9,356.1 L1255.9,356.5 L1253.9,356.9 L1251.9,357.3 L1249.9,357.7 L1247.9,358.2 L1245.9,358.6 L1243.9,359.0 L1241.9,359.4 L1239.9,359.8 L1237.9,360.2 L1235.8,360.6 L1233.8,361.1 L1231.8,361.5 L1229.8,361.9 L1227.8,362.3 L1225.8,362.7 L1223.8,363.2 L1221.8,363.6 L1219.8,364.0 L1217.8,364.4 L1215.8,364.9 L1213.7,365.3 L1211.7,365.7 L1209.7,366.2 L1207.7,366.6 L1205.7,367.0 L1203.7,367.5 L1201.7,367.9 L1199.7,368.3 L1197.7,368.8 L1195.7,369.2 L1193.7,369.7 L1191.7,370.1 L1189.6,370.6 L1187.6,371.1 L1185.6,371.5 L1183.6,372.0 L1181.6,372.5 L1179.6,373.0 L1177.6,373.5 L1175.6,374.0 L1173.6,374.5 L1171.6,375.1 L1169.6,375.6 L1167.6,376.1 L1165.5,376.7 L1163.5,377.3 L1161.5,377.9 L1159.5,378.4 L1157.5,379.0 L1155.5,379.7 L1153.5,380.3 L1151.5,380.9 L1149.5,381.6 L1147.5,382.3 L1145.5,382.9 L1143.4,383.6 L1141.4,384.3 L1139.4,385.1 L1137.4,385.8 L1135.4,386.6 L1133.4,387.4 L1131.4,388.2 L1129.4,389.0 L1127.4,389.8 L1125.4,390.7 L1123.4,391.5 L1121.4,392.4 L1119.3,393.3 L1117.3,394.3 L1115.3,395.2 L1113.3,396.2 L1111.3,397.2 L1109.3,398.2 L1107.3,399.2 L1105.3,400.3 L1103.3,401.4 L1101.3,402.5 L1099.3,403.6 L1097.2,404.8 L1095.2,406.0 L1093.2,407.2 L1091.2,408.4 L1089.2,409.7 L1087.2,411.0 L1085.2,412.3 L1083.2,413.6 L1081.2,415.0 L1079.2,416.4 L1077.2,417.9 L1075.2,419.3 L1073.1,420.8 L1071.1,422.3 L1069.1,423.9 L1067.1,425.4 L1065.1,427.0 L1063.1,428.6 L1061.1,430.3 L1059.1,432.0 L1057.1,433.6 L1055.1,435.4 L1053.1,437.1 L1051.0,438.8 L1049.0,440.6 L1047.0,442.4 L1045.0,444.2 L1043.0,446.1 L1041.0,447.9 L1039.0,449.8 L1037.0,451.7 L1035.0,453.6 L1033.0,455.6 L1031.0,457.5 L1029.0,459.5 L1026.9,461.5 L1024.9,463.5 L1022.9,465.5 L1020.9,467.5 L1018.9,469.5 L1016.9,471.6 L1014.9,473.6 L1012.9,475.7 L1010.9,477.8 L1008.9,479.9 L1006.9,482.0 L1004.9,484.1 L1002.8,486.1 L1000.8,488.2 L998.8,490.3 L996.8,492.4 L994.8,494.5 L992.8,496.6 L990.8,498.6 L988.8,500.7 L986.8,502.7 L984.8,504.8 L982.8,506.8 L980.7,508.8 L978.7,510.8 L976.7,512.7 L974.7,514.7 L972.7,516.6 L970.7,518.5 L968.7,520.3 L966.7,522.2 L964.7,524.0 L962.7,525.7 L960.7,527.5 L958.7,529.2 L956.6,530.9 L954.6,532.5 L952.6,534.1 L950.6,535.6 L948.6,537.1 L946.6,538.6 Z"/></clipPath>
<path d="M954.5,100V545M965.5,100V545M977.5,100V545M988.5,100V545M999.5,100V545M1010.5,100V545M1022.5,100V545M1033.5,100V545M1044.5,100V545M1055.5,100V545M1067.5,100V545M1078.5,100V545M1089.5,100V545M1100.5,100V545M1112.5,100V545M1123.5,100V545M1134.5,100V545M1145.5,100V545M1157.5,100V545M1168.5,100V545M1179.5,100V545M1190.5,100V545M1202.5,100V545M1213.5,100V545M1224.5,100V545M1235.5,100V545M1247.5,100V545M1258.5,100V545M1269.5,100V545M1280.5,100V545M1292.5,100V545M1303.5,100V545M1314.5,100V545M1325.5,100V545M1337.5,100V545M1348.5,100V545M1359.5,100V545M1370.5,100V545M1382.5,100V545M1393.5,100V545M1404.5,100V545M1415.5,100V545M1427.5,100V545M1438.5,100V545M1449.5,100V545M1460.5,100V545M1472.5,100V545M1483.5,100V545M1494.5,100V545M1505.5,100V545M1517.5,100V545M1528.5,100V545M1539.5,100V545M1550.5,100V545M1562.5,100V545M1573.5,100V545" stroke="#ffffff" stroke-opacity="0.40" stroke-width="1.0" clip-path="url(#c3)"/>
<linearGradient id="g4" gradientUnits="userSpaceOnUse" x1="1040.0" y1="0" x2="1110.0" y2="0"><stop offset="0" stop-color="#dd2222" stop-opacity="0"/><stop offset="1" stop-color="#dd2222" stop-opacity="0.40"/></linearGradient>
<linearGradient id="g5" gradientUnits="userSpaceOnUse" x1="1100.0" y1="0" x2="1170.0" y2="0"><stop offset="0" stop-color="#dd2222" stop-opacity="0"/><stop offset="1" stop-color="#dd2222" stop-opacity="0.40"/></linearGradient>
<path d="M946.6,538.6 L948.6,534.5 L950.6,530.5 L952.6,526.6 L954.6,522.8 L956.6,519.2 L958.7,515.6 L960.7,512.2 L962.7,508.8 L964.7,505.6 L966.7,502.4 L968.7,499.3 L970.7,496.3 L972.7,493.3 L974.7,490.5 L976.7,487.7 L978.7,484.9 L980.7,482.2 L982.8,479.6 L984.8,477.0 L986.8,474.5 L988.8,472.0 L990.8,469.5 L992.8,467.1 L994.8,464.7 L996.8,462.3 L998.8,459.9 L1000.8,457.6 L1002.8,455.3 L1004.9,453.0 L1006.9,450.7 L1008.9,448.4 L1010.9,446.1 L1012.9,443.9 L1014.9,441.6 L1016.9,439.2 L1018.9,436.9 L1020.9,434.6 L1022.9,432.2 L1024.9,429.8 L1026.9,427.5 L1029.0,425.1 L1031.0,422.7 L1033.0,420.3 L1035.0,417.9 L1037.0,415.5 L1039.0,413.1 L1041.0,410.7 L1043.0,408.4 L1045.0,406.1 L1047.0,403.7 L1049.0,401.5 L1051.0,399.2 L1053.1,397.0 L1055.1,394.9 L1057.1,392.8 L1059.1,390.7 L1061.1,388.7 L1063.1,386.7 L1065.1,384.8 L1067.1,382.9 L1069.1,381.1 L1071.1,379.4 L1073.1,377.7 L1075.2,376.1 L1077.2,374.5 L1079.2,372.9 L1081.2,371.4 L1083.2,370.0 L1085.2,368.5 L1087.2,367.2 L1089.2,365.8 L1091.2,364.5 L1093.2,363.3 L1095.2,362.0 L1097.2,360.8 L1099.3,359.7 L1101.3,358.5 L1103.3,357.4 L1105.3,356.3 L1107.3,355.3 L1109.3,354.2 L1111.3,353.2 L1113.3,352.2 L1115.3,351.3 L1117.3,350.3 L1119.3,349.4 L1121.4,348.5 L1123.4,347.7 L1125.4,346.8 L1127.4,346.0 L1129.4,345.2 L1131.4,344.4 L1133.4,343.6 L1135.4,342.9 L1137.4,342.1 L1139.4,341.4 L1141.4,340.7 L1143.4,340.1 L1145.5,339.4 L1147.5,338.7 L1149.5,338.1 L1151.5,337.5 L1153.5,336.9 L1155.5,336.3 L1157.5,335.7 L1159.5,335.1 L1161.5,334.6 L1163.5,334.0 L1165.5,333.5 L1167.6,332.9 L1169.6,332.4 L1171.6,331.9 L1173.6,331.4 L1175.6,330.9 L1177.6,330.4 L1179.6,329.9 L1181.6,329.4 L1183.6,329.0 L1185.6,328.5 L1187.6,328.0 L1189.6,327.6 L1191.7,327.1 L1193.7,326.6 L1195.7,326.2 L1197.7,325.7 L1199.7,325.3 L1201.7,324.8 L1203.7,324.4 L1205.7,323.9 L1207.7,323.4 L1209.7,323.0 L1211.7,322.5 L1213.7,322.0 L1215.8,321.6 L1217.8,321.1 L1219.8,320.6 L1221.8,320.1 L1223.8,319.6 L1225.8,319.1 L1227.8,318.7 L1229.8,318.2 L1231.8,317.7 L1233.8,317.2 L1235.8,316.7 L1237.9,316.2 L1239.9,315.7 L1241.9,315.2 L1243.9,314.7 L1245.9,314.2 L1247.9,313.7 L1249.9,313.2 L1251.9,312.7 L1253.9,312.2 L1255.9,311.7 L1257.9,311.1 L1259.9,310.6 L1262.0,310.1 L1264.0,309.6 L1266.0,309.1 L1268.0,308.6 L1270.0,308.1 L1272.0,307.6 L1274.0,307.1 L1276.0,306.6 L1278.0,306.1 L1280.0,305.6 L1282.0,305.1 L1284.1,304.6 L1286.1,304.1 L1288.1,303.6 L1290.1,303.1 L1292.1,302.7 L1294.1,302.2 L1296.1,301.7 L1298.1,301.2 L1300.1,300.7 L1302.1,300.2 L1304.1,299.8 L1306.1,299.3 L1308.2,298.8 L1310.2,298.4 L1312.2,297.9 L1314.2,297.4 L1316.2,297.0 L1318.2,296.5 L1320.2,296.0 L1322.2,295.6 L1324.2,295.1 L1326.2,294.7 L1328.2,294.2 L1330.2,293.8 L1332.3,293.3 L1334.3,292.9 L1336.3,292.4 L1338.3,292.0 L1340.3,291.5 L1342.3,291.1 L1344.3,290.6 L1346.3,290.2 L1348.3,289.7 L1350.3,289.3 L1352.3,288.9 L1354.4,288.4 L1356.4,288.0 L1358.4,287.6 L1360.4,287.1 L1362.4,286.7 L1364.4,286.3 L1366.4,285.9 L1368.4,285.4 L1370.4,285.0 L1372.4,284.6 L1374.4,284.2 L1376.4,283.7 L1378.5,283.3 L1380.5,282.9 L1382.5,282.5 L1384.5,282.1 L1386.5,281.6 L1388.5,281.2 L1390.5,280.8 L1392.5,280.4 L1394.5,280.0 L1396.5,279.6 L1398.5,279.1 L1400.6,278.7 L1402.6,278.3 L1404.6,277.9 L1406.6,277.5 L1408.6,277.1 L1410.6,276.7 L1412.6,276.3 L1414.6,275.9 L1416.6,275.5 L1418.6,275.1 L1420.6,274.7 L1422.6,274.3 L1424.7,273.8 L1426.7,273.4 L1428.7,273.0 L1430.7,272.6 L1432.7,272.2 L1434.7,271.8 L1436.7,271.4 L1438.7,271.0 L1440.7,270.6 L1442.7,270.2 L1444.7,269.8 L1446.8,269.4 L1448.8,269.0 L1450.8,268.6 L1452.8,268.2 L1454.8,267.8 L1456.8,267.4 L1458.8,267.0 L1460.8,266.6 L1462.8,266.2 L1464.8,265.8 L1466.8,265.4 L1468.8,265.0 L1470.9,264.6 L1472.9,264.2 L1474.9,263.8 L1476.9,263.4 L1478.9,263.0 L1480.9,262.6 L1482.9,262.2 L1484.9,261.8 L1486.9,261.4 L1488.9,261.0 L1490.9,260.6 L1492.9,260.2 L1495.0,259.8 L1497.0,259.4 L1499.0,259.0 L1501.0,258.6 L1503.0,258.2 L1505.0,257.8 L1507.0,257.3 L1509.0,256.9 L1511.0,256.5 L1513.0,256.1 L1515.0,255.7 L1517.1,255.3 L1519.1,254.9 L1521.1,254.5 L1523.1,254.1 L1525.1,253.7 L1527.1,253.2 L1529.1,252.8 L1531.1,252.4 L1533.1,252.0 L1535.1,251.6 L1537.1,251.2 L1539.1,250.7 L1541.2,250.3 L1543.2,249.9 L1545.2,249.5 L1547.2,249.0 L1549.2,248.6 L1551.2,248.2 L1576.0,248.8" fill="none" stroke="url(#g4)" stroke-width="2.0"/>
<path d="M946.6,538.6 L948.6,537.1 L950.6,535.6 L952.6,534.1 L954.6,532.5 L956.6,530.9 L958.7,529.2 L960.7,527.5 L962.7,525.7 L964.7,524.0 L966.7,522.2 L968.7,520.3 L970.7,518.5 L972.7,516.6 L974.7,514.7 L976.7,512.7 L978.7,510.8 L980.7,508.8 L982.8,506.8 L984.8,504.8 L986.8,502.7 L988.8,500.7 L990.8,498.6 L992.8,496.6 L994.8,494.5 L996.8,492.4 L998.8,490.3 L1000.8,488.2 L1002.8,486.1 L1004.9,484.1 L1006.9,482.0 L1008.9,479.9 L1010.9,477.8 L1012.9,475.7 L1014.9,473.6 L1016.9,471.6 L1018.9,469.5 L1020.9,467.5 L1022.9,465.5 L1024.9,463.5 L1026.9,461.5 L1029.0,459.5 L1031.0,457.5 L1033.0,455.6 L1035.0,453.6 L1037.0,451.7 L1039.0,449.8 L1041.0,447.9 L1043.0,446.1 L1045.0,444.2 L1047.0,442.4 L1049.0,440.6 L1051.0,438.8 L1053.1,437.1 L1055.1,435.4 L1057.1,433.6 L1059.1,432.0 L1061.1,430.3 L1063.1,428.6 L1065.1,427.0 L1067.1,425.4 L1069.1,423.9 L1071.1,422.3 L1073.1,420.8 L1075.2,419.3 L1077.2,417.9 L1079.2,416.4 L1081.2,415.0 L1083.2,413.6 L1085.2,412.3 L1087.2,411.0 L1089.2,409.7 L1091.2,408.4 L1093.2,407.2 L1095.2,406.0 L1097.2,404.8 L1099.3,403.6 L1101.3,402.5 L1103.3,401.4 L1105.3,400.3 L1107.3,399.2 L1109.3,398.2 L1111.3,397.2 L1113.3,396.2 L1115.3,395.2 L1117.3,394.3 L1119.3,393.3 L1121.4,392.4 L1123.4,391.5 L1125.4,390.7 L1127.4,389.8 L1129.4,389.0 L1131.4,388.2 L1133.4,387.4 L1135.4,386.6 L1137.4,385.8 L1139.4,385.1 L1141.4,384.3 L1143.4,383.6 L1145.5,382.9 L1147.5,382.3 L1149.5,381.6 L1151.5,380.9 L1153.5,380.3 L1155.5,379.7 L1157.5,379.0 L1159.5,378.4 L1161.5,377.9 L1163.5,377.3 L1165.5,376.7 L1167.6,376.1 L1169.6,375.6 L1171.6,375.1 L1173.6,374.5 L1175.6,374.0 L1177.6,373.5 L1179.6,373.0 L1181.6,372.5 L1183.6,372.0 L1185.6,371.5 L1187.6,371.1 L1189.6,370.6 L1191.7,370.1 L1193.7,369.7 L1195.7,369.2 L1197.7,368.8 L1199.7,368.3 L1201.7,367.9 L1203.7,367.5 L1205.7,367.0 L1207.7,366.6 L1209.7,366.2 L1211.7,365.7 L1213.7,365.3 L1215.8,364.9 L1217.8,364.4 L1219.8,364.0 L1221.8,363.6 L1223.8,363.2 L1225.8,362.7 L1227.8,362.3 L1229.8,361.9 L1231.8,361.5 L1233.8,361.1 L1235.8,360.6 L1237.9,360.2 L1239.9,359.8 L1241.9,359.4 L1243.9,359.0 L1245.9,358.6 L1247.9,358.2 L1249.9,357.7 L1251.9,357.3 L1253.9,356.9 L1255.9,356.5 L1257.9,356.1 L1259.9,355.7 L1262.0,355.3 L1264.0,354.9 L1266.0,354.5 L1268.0,354.1 L1270.0,353.7 L1272.0,353.3 L1274.0,352.9 L1276.0,352.5 L1278.0,352.1 L1280.0,351.7 L1282.0,351.3 L1284.1,350.9 L1286.1,350.5 L1288.1,350.1 L1290.1,349.7 L1292.1,349.4 L1294.1,349.0 L1296.1,348.6 L1298.1,348.2 L1300.1,347.8 L1302.1,347.4 L1304.1,347.0 L1306.1,346.6 L1308.2,346.3 L1310.2,345.9 L1312.2,345.5 L1314.2,345.1 L1316.2,344.7 L1318.2,344.4 L1320.2,344.0 L1322.2,343.6 L1324.2,343.2 L1326.2,342.9 L1328.2,342.5 L1330.2,342.1 L1332.3,341.7 L1334.3,341.4 L1336.3,341.0 L1338.3,340.6 L1340.3,340.2 L1342.3,339.9 L1344.3,339.5 L1346.3,339.1 L1348.3,338.8 L1350.3,338.4 L1352.3,338.0 L1354.4,337.7 L1356.4,337.3 L1358.4,336.9 L1360.4,336.6 L1362.4,336.2 L1364.4,335.9 L1366.4,335.5 L1368.4,335.1 L1370.4,334.8 L1372.4,334.4 L1374.4,334.1 L1376.4,333.7 L1378.5,333.3 L1380.5,333.0 L1382.5,332.6 L1384.5,332.3 L1386.5,331.9 L1388.5,331.6 L1390.5,331.2 L1392.5,330.9 L1394.5,330.5 L1396.5,330.2 L1398.5,329.8 L1400.6,329.5 L1402.6,329.1 L1404.6,328.8 L1406.6,328.4 L1408.6,328.1 L1410.6,327.7 L1412.6,327.4 L1414.6,327.0 L1416.6,326.7 L1418.6,326.3 L1420.6,326.0 L1422.6,325.6 L1424.7,325.3 L1426.7,324.9 L1428.7,324.6 L1430.7,324.3 L1432.7,323.9 L1434.7,323.6 L1436.7,323.2 L1438.7,322.9 L1440.7,322.6 L1442.7,322.2 L1444.7,321.9 L1446.8,321.5 L1448.8,321.2 L1450.8,320.9 L1452.8,320.5 L1454.8,320.2 L1456.8,319.8 L1458.8,319.5 L1460.8,319.2 L1462.8,318.8 L1464.8,318.5 L1466.8,318.2 L1468.8,317.8 L1470.9,317.5 L1472.9,317.2 L1474.9,316.8 L1476.9,316.5 L1478.9,316.1 L1480.9,315.8 L1482.9,315.5 L1484.9,315.2 L1486.9,314.8 L1488.9,314.5 L1490.9,314.2 L1492.9,313.8 L1495.0,313.5 L1497.0,313.2 L1499.0,312.8 L1501.0,312.5 L1503.0,312.2 L1505.0,311.8 L1507.0,311.5 L1509.0,311.2 L1511.0,310.8 L1513.0,310.5 L1515.0,310.2 L1517.1,309.9 L1519.1,309.5 L1521.1,309.2 L1523.1,308.9 L1525.1,308.5 L1527.1,308.2 L1529.1,307.9 L1531.1,307.6 L1533.1,307.2 L1535.1,306.9 L1537.1,306.6 L1539.1,306.3 L1541.2,305.9 L1543.2,305.6 L1545.2,305.3 L1547.2,304.9 L1549.2,304.6 L1551.2,304.3 L1576.0,301.8" fill="none" stroke="url(#g5)" stroke-width="2.0"/>
<path d="M946.6,538.6 L948.6,534.8 L950.7,531.1 L952.7,527.4 L954.7,523.8 L956.7,520.1 L958.8,516.5 L960.8,512.9 L962.8,509.3 L964.8,505.8 L966.9,502.3 L968.9,498.8 L970.9,495.3 L972.9,491.9 L975.0,488.4 L977.0,485.0 L979.0,481.6 L981.0,478.2 L983.1,474.8 L985.1,471.5 L987.1,468.1 L989.1,464.8 L991.2,461.5 L993.2,458.2 L995.2,454.9 L997.2,451.6 L999.3,448.4 L1001.3,445.1 L1003.3,441.9 L1005.4,438.6 L1007.4,435.4 L1009.4,432.2 L1011.4,429.0 L1013.5,425.9 L1015.5,422.7 L1017.5,419.5 L1019.5,416.4 L1021.6,413.3 L1023.6,410.2 L1025.6,407.1 L1027.6,404.0 L1029.7,400.9 L1031.7,397.8 L1033.7,394.8 L1035.7,391.8 L1037.8,388.7 L1039.8,385.7 L1041.8,382.7 L1043.8,379.8 L1045.9,376.8 L1047.9,373.8 L1049.9,370.9 L1051.9,368.0 L1054.0,365.1 L1056.0,362.2 L1058.0,359.3 L1060.0,356.4 L1062.1,353.5 L1064.1,350.7 L1066.1,347.9 L1068.2,345.1 L1070.2,342.2 L1072.2,339.5 L1074.2,336.7 L1076.3,333.9 L1078.3,331.2 L1080.3,328.5 L1082.3,325.8 L1084.4,323.1 L1086.4,320.4 L1088.4,317.8 L1090.4,315.1 L1092.5,312.6 L1094.5,310.0 L1096.5,307.4 L1098.5,304.9 L1100.6,302.4 L1102.6,299.9 L1104.6,297.5 L1106.6,295.1 L1108.7,292.7 L1110.7,290.3 L1112.7,288.0 L1114.7,285.7 L1116.8,283.5 L1118.8,281.2 L1120.8,279.1 L1122.9,276.9 L1124.9,274.8 L1126.9,272.7 L1128.9,270.7 L1131.0,268.7 L1133.0,266.7 L1135.0,264.8 L1137.0,262.9 L1139.1,261.1 L1141.1,259.3 L1143.1,257.5 L1145.1,255.8 L1147.2,254.1 L1149.2,252.4 L1151.2,250.7 L1153.2,249.1 L1155.3,247.4 L1157.3,245.8 L1159.3,244.2 L1161.3,242.6 L1163.4,241.0 L1165.4,239.4 L1167.4,237.8 L1169.4,236.1 L1171.5,234.5 L1173.5,232.9 L1175.6,230.6 L1178.0,231.8 L1180.0,231.4 L1182.0,229.7 L1184.1,228.0 L1186.1,226.4 L1188.2,224.7 L1190.2,223.1 L1192.3,221.5 L1194.3,219.9 L1196.4,218.3 L1198.4,216.7 L1200.5,215.2 L1202.5,213.6 L1204.5,212.1 L1206.6,210.6 L1208.6,209.1 L1210.7,207.6 L1212.7,206.2 L1214.8,204.7 L1216.8,203.3 L1218.9,201.9 L1220.9,200.5 L1223.0,199.1 L1225.0,197.8 L1227.0,196.4 L1229.1,195.1 L1231.1,193.8 L1233.2,192.4 L1235.2,191.2 L1237.3,189.9 L1239.3,188.6 L1241.4,187.4 L1243.4,186.2 L1245.5,184.9 L1247.5,183.7 L1249.5,182.6 L1251.6,181.4 L1253.6,180.2 L1255.7,179.1 L1257.7,178.0 L1259.8,176.9 L1261.8,175.8 L1263.9,174.7 L1265.9,173.6 L1268.0,172.6 L1270.0,171.5 L1272.0,170.5 L1274.1,169.5 L1276.1,168.5 L1278.2,167.5 L1280.2,166.5 L1282.3,165.6 L1284.3,164.6 L1286.4,163.7 L1288.4,162.8 L1290.5,161.9 L1292.5,161.0 L1294.5,160.2 L1296.6,159.3 L1298.6,158.5 L1300.7,157.6 L1302.7,156.8 L1304.8,156.0 L1306.8,155.2 L1308.9,154.4 L1310.9,153.7 L1313.0,152.9 L1315.0,152.2 L1315.0,193.0 L1313.0,193.9 L1311.0,194.8 L1309.0,195.7 L1306.9,196.6 L1304.9,197.5 L1302.9,198.4 L1300.9,199.2 L1298.9,200.1 L1296.9,200.9 L1294.9,201.8 L1292.9,202.6 L1290.8,203.4 L1288.8,204.3 L1286.8,205.1 L1284.8,205.9 L1282.8,206.8 L1280.8,207.6 L1278.8,208.4 L1276.8,209.3 L1274.7,210.1 L1272.7,211.0 L1270.7,211.8 L1268.7,212.7 L1266.7,213.5 L1264.7,214.4 L1262.7,215.2 L1260.6,216.1 L1258.6,217.0 L1256.6,217.9 L1254.6,218.8 L1252.6,219.8 L1250.6,220.7 L1248.6,221.6 L1246.6,222.6 L1244.5,223.6 L1242.5,224.6 L1240.5,225.6 L1238.5,226.6 L1236.5,227.7 L1234.5,228.7 L1232.5,229.8 L1230.4,230.9 L1228.4,232.0 L1226.4,233.1 L1224.4,234.2 L1222.4,235.4 L1220.4,236.5 L1218.4,237.7 L1216.4,238.9 L1214.3,240.1 L1212.3,241.3 L1210.3,242.5 L1208.3,243.7 L1206.3,245.0 L1204.3,246.2 L1202.3,247.4 L1200.3,248.7 L1198.2,250.0 L1196.2,251.2 L1194.2,252.5 L1192.2,253.8 L1190.2,255.1 L1188.2,256.3 L1186.2,257.6 L1184.1,259.0 L1182.1,260.3 L1180.1,261.6 L1178.1,262.9 L1176.1,264.2 L1174.1,265.6 L1172.1,266.9 L1170.1,268.3 L1168.0,269.6 L1166.0,271.0 L1164.0,272.4 L1162.0,273.7 L1160.0,275.1 L1158.0,276.5 L1156.0,277.9 L1154.0,279.3 L1151.9,280.7 L1149.9,282.1 L1147.9,283.5 L1145.9,285.0 L1143.9,286.4 L1141.9,287.9 L1139.9,289.4 L1137.8,290.9 L1135.8,292.4 L1133.8,294.0 L1131.8,295.6 L1129.8,297.2 L1127.8,298.9 L1125.8,300.6 L1123.8,302.4 L1121.7,304.2 L1119.7,306.0 L1117.7,307.9 L1115.7,309.9 L1113.7,311.8 L1111.7,313.9 L1109.7,316.0 L1107.6,318.1 L1105.6,320.3 L1103.6,322.6 L1101.6,324.9 L1099.6,327.2 L1097.6,329.6 L1095.6,332.1 L1093.6,334.6 L1091.5,337.1 L1089.5,339.7 L1087.5,342.4 L1085.5,345.0 L1083.5,347.7 L1081.5,350.5 L1079.5,353.3 L1077.5,356.1 L1075.4,358.9 L1073.4,361.8 L1071.4,364.7 L1069.4,367.6 L1067.4,370.6 L1065.4,373.5 L1063.4,376.5 L1061.3,379.5 L1059.3,382.6 L1057.3,385.6 L1055.3,388.6 L1053.3,391.7 L1051.3,394.8 L1049.3,397.8 L1047.3,400.9 L1045.2,404.0 L1043.2,407.1 L1041.2,410.2 L1039.2,413.3 L1037.2,416.4 L1035.2,419.6 L1033.2,422.7 L1031.2,425.8 L1029.1,428.9 L1027.1,432.0 L1025.1,435.1 L1023.1,438.2 L1021.1,441.3 L1019.1,444.4 L1017.1,447.5 L1015.0,450.6 L1013.0,453.6 L1011.0,456.7 L1009.0,459.7 L1007.0,462.7 L1005.0,465.8 L1003.0,468.8 L1001.0,471.7 L998.9,474.7 L996.9,477.7 L994.9,480.6 L992.9,483.5 L990.9,486.4 L988.9,489.2 L986.9,492.0 L984.8,494.8 L982.8,497.6 L980.8,500.3 L978.8,503.0 L976.8,505.6 L974.8,508.2 L972.8,510.7 L970.8,513.2 L968.7,515.7 L966.7,518.1 L964.7,520.4 L962.7,522.7 L960.7,524.9 L958.7,527.1 L956.7,529.2 L954.7,531.2 L952.6,533.2 L950.6,535.0 L948.6,536.9 L946.6,538.6 Z" fill="#0000ff" fill-opacity="0.100" stroke="none"/>
<linearGradient id="g6" gradientUnits="userSpaceOnUse" x1="960.0" y1="0" x2="1110.0" y2="0"><stop offset="0" stop-color="#3333cc" stop-opacity="0"/><stop offset="1" stop-color="#3333cc" stop-opacity="0.36"/></linearGradient>
<linearGradient id="g7" gradientUnits="userSpaceOnUse" x1="1080.0" y1="0" x2="1160.0" y2="0"><stop offset="0" stop-color="#3333cc" stop-opacity="0"/><stop offset="1" stop-color="#3333cc" stop-opacity="0.36"/></linearGradient>
<path d="M946.6,538.6 L948.6,534.8 L950.7,531.1 L952.7,527.4 L954.7,523.8 L956.7,520.1 L958.8,516.5 L960.8,512.9 L962.8,509.3 L964.8,505.8 L966.9,502.3 L968.9,498.8 L970.9,495.3 L972.9,491.9 L975.0,488.4 L977.0,485.0 L979.0,481.6 L981.0,478.2 L983.1,474.8 L985.1,471.5 L987.1,468.1 L989.1,464.8 L991.2,461.5 L993.2,458.2 L995.2,454.9 L997.2,451.6 L999.3,448.4 L1001.3,445.1 L1003.3,441.9 L1005.4,438.6 L1007.4,435.4 L1009.4,432.2 L1011.4,429.0 L1013.5,425.9 L1015.5,422.7 L1017.5,419.5 L1019.5,416.4 L1021.6,413.3 L1023.6,410.2 L1025.6,407.1 L1027.6,404.0 L1029.7,400.9 L1031.7,397.8 L1033.7,394.8 L1035.7,391.8 L1037.8,388.7 L1039.8,385.7 L1041.8,382.7 L1043.8,379.8 L1045.9,376.8 L1047.9,373.8 L1049.9,370.9 L1051.9,368.0 L1054.0,365.1 L1056.0,362.2 L1058.0,359.3 L1060.0,356.4 L1062.1,353.5 L1064.1,350.7 L1066.1,347.9 L1068.2,345.1 L1070.2,342.2 L1072.2,339.5 L1074.2,336.7 L1076.3,333.9 L1078.3,331.2 L1080.3,328.5 L1082.3,325.8 L1084.4,323.1 L1086.4,320.4 L1088.4,317.8 L1090.4,315.1 L1092.5,312.6 L1094.5,310.0 L1096.5,307.4 L1098.5,304.9 L1100.6,302.4 L1102.6,299.9 L1104.6,297.5 L1106.6,295.1 L1108.7,292.7 L1110.7,290.3 L1112.7,288.0 L1114.7,285.7 L1116.8,283.5 L1118.8,281.2 L1120.8,279.1 L1122.9,276.9 L1124.9,274.8 L1126.9,272.7 L1128.9,270.7 L1131.0,268.7 L1133.0,266.7 L1135.0,264.8 L1137.0,262.9 L1139.1,261.1 L1141.1,259.3 L1143.1,257.5 L1145.1,255.8 L1147.2,254.1 L1149.2,252.4 L1151.2,250.7 L1153.2,249.1 L1155.3,247.4 L1157.3,245.8 L1159.3,244.2 L1161.3,242.6 L1163.4,241.0 L1165.4,239.4 L1167.4,237.8 L1169.4,236.1 L1171.5,234.5 L1173.5,232.9 L1175.6,230.6 L1178.0,231.8 L1180.0,231.4 L1182.0,229.7 L1184.1,228.0 L1186.1,226.4 L1188.2,224.7 L1190.2,223.1 L1192.3,221.5 L1194.3,219.9 L1196.4,218.3 L1198.4,216.7 L1200.5,215.2 L1202.5,213.6 L1204.5,212.1 L1206.6,210.6 L1208.6,209.1 L1210.7,207.6 L1212.7,206.2 L1214.8,204.7 L1216.8,203.3 L1218.9,201.9 L1220.9,200.5 L1223.0,199.1 L1225.0,197.8 L1227.0,196.4 L1229.1,195.1 L1231.1,193.8 L1233.2,192.4 L1235.2,191.2 L1237.3,189.9 L1239.3,188.6 L1241.4,187.4 L1243.4,186.2 L1245.5,184.9 L1247.5,183.7 L1249.5,182.6 L1251.6,181.4 L1253.6,180.2 L1255.7,179.1 L1257.7,178.0 L1259.8,176.9 L1261.8,175.8 L1263.9,174.7 L1265.9,173.6 L1268.0,172.6 L1270.0,171.5 L1272.0,170.5 L1274.1,169.5 L1276.1,168.5 L1278.2,167.5 L1280.2,166.5 L1282.3,165.6 L1284.3,164.6 L1286.4,163.7 L1288.4,162.8 L1290.5,161.9 L1292.5,161.0 L1294.5,160.2 L1296.6,159.3 L1298.6,158.5 L1300.7,157.6 L1302.7,156.8 L1304.8,156.0 L1306.8,155.2 L1308.9,154.4 L1310.9,153.7 L1313.0,152.9 L1315.0,152.2" fill="none" stroke="url(#g6)" stroke-width="2.4"/>
<path d="M946.6,538.6 L948.6,536.9 L950.6,535.0 L952.6,533.2 L954.7,531.2 L956.7,529.2 L958.7,527.1 L960.7,524.9 L962.7,522.7 L964.7,520.4 L966.7,518.1 L968.7,515.7 L970.8,513.2 L972.8,510.7 L974.8,508.2 L976.8,505.6 L978.8,503.0 L980.8,500.3 L982.8,497.6 L984.8,494.8 L986.9,492.0 L988.9,489.2 L990.9,486.4 L992.9,483.5 L994.9,480.6 L996.9,477.7 L998.9,474.7 L1001.0,471.7 L1003.0,468.8 L1005.0,465.8 L1007.0,462.7 L1009.0,459.7 L1011.0,456.7 L1013.0,453.6 L1015.0,450.6 L1017.1,447.5 L1019.1,444.4 L1021.1,441.3 L1023.1,438.2 L1025.1,435.1 L1027.1,432.0 L1029.1,428.9 L1031.2,425.8 L1033.2,422.7 L1035.2,419.6 L1037.2,416.4 L1039.2,413.3 L1041.2,410.2 L1043.2,407.1 L1045.2,404.0 L1047.3,400.9 L1049.3,397.8 L1051.3,394.8 L1053.3,391.7 L1055.3,388.6 L1057.3,385.6 L1059.3,382.6 L1061.3,379.5 L1063.4,376.5 L1065.4,373.5 L1067.4,370.6 L1069.4,367.6 L1071.4,364.7 L1073.4,361.8 L1075.4,358.9 L1077.5,356.1 L1079.5,353.3 L1081.5,350.5 L1083.5,347.7 L1085.5,345.0 L1087.5,342.4 L1089.5,339.7 L1091.5,337.1 L1093.6,334.6 L1095.6,332.1 L1097.6,329.6 L1099.6,327.2 L1101.6,324.9 L1103.6,322.6 L1105.6,320.3 L1107.6,318.1 L1109.7,316.0 L1111.7,313.9 L1113.7,311.8 L1115.7,309.9 L1117.7,307.9 L1119.7,306.0 L1121.7,304.2 L1123.8,302.4 L1125.8,300.6 L1127.8,298.9 L1129.8,297.2 L1131.8,295.6 L1133.8,294.0 L1135.8,292.4 L1137.8,290.9 L1139.9,289.4 L1141.9,287.9 L1143.9,286.4 L1145.9,285.0 L1147.9,283.5 L1149.9,282.1 L1151.9,280.7 L1154.0,279.3 L1156.0,277.9 L1158.0,276.5 L1160.0,275.1 L1162.0,273.7 L1164.0,272.4 L1166.0,271.0 L1168.0,269.6 L1170.1,268.3 L1172.1,266.9 L1174.1,265.6 L1176.1,264.2 L1178.1,262.9 L1180.1,261.6 L1182.1,260.3 L1184.1,259.0 L1186.2,257.6 L1188.2,256.3 L1190.2,255.1 L1192.2,253.8 L1194.2,252.5 L1196.2,251.2 L1198.2,250.0 L1200.3,248.7 L1202.3,247.4 L1204.3,246.2 L1206.3,245.0 L1208.3,243.7 L1210.3,242.5 L1212.3,241.3 L1214.3,240.1 L1216.4,238.9 L1218.4,237.7 L1220.4,236.5 L1222.4,235.4 L1224.4,234.2 L1226.4,233.1 L1228.4,232.0 L1230.4,230.9 L1232.5,229.8 L1234.5,228.7 L1236.5,227.7 L1238.5,226.6 L1240.5,225.6 L1242.5,224.6 L1244.5,223.6 L1246.6,222.6 L1248.6,221.6 L1250.6,220.7 L1252.6,219.8 L1254.6,218.8 L1256.6,217.9 L1258.6,217.0 L1260.6,216.1 L1262.7,215.2 L1264.7,214.4 L1266.7,213.5 L1268.7,212.7 L1270.7,211.8 L1272.7,211.0 L1274.7,210.1 L1276.8,209.3 L1278.8,208.4 L1280.8,207.6 L1282.8,206.8 L1284.8,205.9 L1286.8,205.1 L1288.8,204.3 L1290.8,203.4 L1292.9,202.6 L1294.9,201.8 L1296.9,200.9 L1298.9,200.1 L1300.9,199.2 L1302.9,198.4 L1304.9,197.5 L1306.9,196.6 L1309.0,195.7 L1311.0,194.8 L1313.0,193.9 L1315.0,193.0" fill="none" stroke="url(#g7)" stroke-width="2.4"/>
<path d="M946.6,538.6 L948.6,535.5 L950.6,532.3 L952.6,529.1 L954.6,525.8 L956.7,522.5 L958.7,519.1 L960.7,515.7 L962.7,512.3 L964.7,508.9 L966.7,505.5 L968.7,502.1 L970.7,498.6 L972.8,495.3 L974.8,491.9 L976.8,488.5 L978.8,485.2 L980.8,481.8 L982.8,478.5 L984.8,475.2 L986.8,471.9 L988.8,468.6 L990.9,465.3 L992.9,462.1 L994.9,458.8 L996.9,455.6 L998.9,452.3 L1000.9,449.1 L1002.9,445.9 L1004.9,442.7 L1006.9,439.5 L1009.0,436.4 L1011.0,433.2 L1013.0,430.0 L1015.0,426.9 L1017.0,423.8 L1019.0,420.6 L1021.0,417.5 L1023.0,414.4 L1025.1,411.3 L1027.1,408.2 L1029.1,405.1 L1031.1,402.1 L1033.1,399.0 L1035.1,396.0 L1037.1,392.9 L1039.1,389.9 L1041.1,386.8 L1043.2,383.8 L1045.2,380.8 L1047.2,377.8 L1049.2,374.9 L1051.2,371.9 L1053.2,369.0 L1055.2,366.0 L1057.2,363.1 L1059.3,360.3 L1061.3,357.4 L1063.3,354.6 L1065.3,351.8 L1067.3,349.0 L1069.3,346.2 L1071.3,343.5 L1073.3,340.8 L1075.3,338.1 L1077.4,335.5 L1079.4,332.8 L1081.4,330.3 L1083.4,327.7 L1085.4,325.2 L1087.4,322.8 L1089.4,320.3 L1091.4,317.9 L1093.5,315.6 L1095.5,313.3 L1097.5,311.0 L1099.5,308.7 L1101.5,306.5 L1103.5,304.4 L1105.5,302.2 L1107.5,300.1 L1109.5,298.0 L1111.6,296.0 L1113.6,294.0 L1115.6,292.0 L1117.6,290.1 L1119.6,288.2 L1121.6,286.3 L1123.6,284.4 L1125.6,282.6 L1127.6,280.8 L1129.7,279.0 L1131.7,277.3 L1133.7,275.6 L1135.7,273.9 L1137.7,272.2 L1139.7,270.6 L1141.7,268.9 L1143.7,267.3 L1145.8,265.8 L1147.8,264.2 L1149.8,262.7 L1151.8,261.2 L1153.8,259.7 L1155.8,258.2 L1157.8,256.8 L1159.8,255.4 L1161.8,254.0 L1163.9,252.6 L1165.9,251.3 L1167.9,249.9 L1169.9,248.6 L1171.9,247.3 L1173.9,246.0 L1175.9,244.8 L1177.9,243.5 L1180.0,242.3 L1182.0,241.1 L1184.0,239.9 L1186.0,238.7 L1188.0,237.6 L1190.0,236.4 L1192.0,235.3 L1194.0,234.2 L1196.0,233.1 L1198.1,232.0 L1200.1,231.0 L1202.1,229.9 L1204.1,228.9 L1206.1,227.9 L1208.1,226.9 L1210.1,225.9 L1212.1,224.9 L1214.1,223.9 L1216.2,223.0 L1218.2,222.0 L1220.2,221.1 L1222.2,220.2 L1224.2,219.3 L1226.2,218.4 L1228.2,217.5 L1230.2,216.6 L1232.3,215.7 L1234.3,214.9 L1236.3,214.0 L1238.3,213.2 L1240.3,212.3 L1242.3,211.5 L1244.3,210.7 L1246.3,209.9 L1248.3,209.1 L1250.4,208.3 L1252.4,207.5 L1254.4,206.7 L1256.4,205.9 L1258.4,205.1 L1260.4,204.3 L1262.4,203.6 L1264.4,202.8 L1266.5,202.1 L1268.5,201.3 L1270.5,200.6 L1272.5,199.8 L1274.5,199.1 L1276.5,198.3 L1278.5,197.6 L1280.5,196.8 L1282.5,196.1 L1284.6,195.4 L1286.6,194.7 L1288.6,193.9 L1290.6,193.2 L1292.6,192.5 L1294.6,191.8 L1296.6,191.1 L1298.6,190.3 L1300.6,189.6 L1302.7,188.9 L1304.7,188.2 L1306.7,187.5 L1308.7,186.8 L1310.7,186.1 L1312.7,185.4 L1314.7,184.7 L1316.7,184.0 L1318.8,183.3 L1320.8,182.7 L1322.8,182.0 L1324.8,181.3 L1326.8,180.6 L1328.8,179.9 L1330.8,179.3 L1332.8,178.6 L1334.8,177.9 L1336.9,177.3 L1338.9,176.6 L1340.9,175.9 L1342.9,175.3 L1344.9,174.6 L1346.9,173.9 L1348.9,173.3 L1350.9,172.6 L1353.0,172.0 L1355.0,171.3 L1357.0,170.7 L1359.0,170.0 L1361.0,169.4 L1363.0,168.8 L1365.0,168.1 L1367.0,167.5 L1369.0,166.9 L1371.1,166.2 L1373.1,165.6 L1375.1,165.0 L1377.1,164.3 L1379.1,163.7 L1381.1,163.1 L1383.1,162.5 L1385.1,161.8 L1387.2,161.2 L1389.2,160.6 L1391.2,160.0 L1393.2,159.4 L1395.2,158.8 L1397.2,158.2 L1399.2,157.5 L1401.2,156.9 L1403.2,156.3 L1405.3,155.7 L1407.3,155.1 L1409.3,154.5 L1411.3,153.9 L1413.3,153.3 L1415.3,152.7 L1417.3,152.1 L1419.3,151.6 L1421.3,151.0 L1423.4,150.4 L1425.4,149.8 L1427.4,149.2 L1429.4,148.6 L1431.4,148.0 L1433.4,147.4 L1435.4,146.9 L1437.4,146.3 L1439.5,145.7 L1441.5,145.1 L1443.5,144.5 L1445.5,144.0 L1447.5,143.4 L1449.5,142.8 L1451.5,142.2 L1453.5,141.7 L1455.5,141.1 L1457.6,140.5 L1459.6,140.0 L1461.6,139.4 L1463.6,138.8 L1465.6,138.3 L1467.6,137.7 L1469.6,137.2 L1471.6,136.6 L1473.7,136.0 L1475.7,135.5 L1477.7,134.9 L1479.7,134.4 L1481.7,133.8 L1483.7,133.2 L1485.7,132.7 L1487.7,132.1 L1489.7,131.6 L1491.8,131.0 L1493.8,130.5 L1495.8,129.9 L1497.8,129.4 L1499.8,128.8 L1501.8,128.3 L1503.8,127.7 L1505.8,127.2 L1507.8,126.6 L1509.9,126.1 L1511.9,125.6 L1513.9,125.0 L1515.9,124.5 L1517.9,123.9 L1519.9,123.4 L1521.9,122.8 L1523.9,122.3 L1526.0,121.8 L1528.0,121.2 L1530.0,120.7 L1532.0,120.1 L1534.0,119.6 L1534.0,191.6 L1532.0,192.1 L1530.0,192.6 L1528.0,193.1 L1526.0,193.6 L1523.9,194.1 L1521.9,194.6 L1519.9,195.1 L1517.9,195.6 L1515.9,196.1 L1513.9,196.6 L1511.9,197.1 L1509.9,197.6 L1507.8,198.1 L1505.8,198.6 L1503.8,199.0 L1501.8,199.5 L1499.8,200.0 L1497.8,200.4 L1495.8,200.9 L1493.8,201.4 L1491.8,201.8 L1489.7,202.3 L1487.7,202.7 L1485.7,203.2 L1483.7,203.7 L1481.7,204.1 L1479.7,204.5 L1477.7,205.0 L1475.7,205.4 L1473.6,205.9 L1471.6,206.3 L1469.6,206.8 L1467.6,207.2 L1465.6,207.6 L1463.6,208.1 L1461.6,208.5 L1459.6,208.9 L1457.6,209.4 L1455.5,209.8 L1453.5,210.2 L1451.5,210.7 L1449.5,211.1 L1447.5,211.5 L1445.5,211.9 L1443.5,212.4 L1441.5,212.8 L1439.4,213.2 L1437.4,213.6 L1435.4,214.1 L1433.4,214.5 L1431.4,214.9 L1429.4,215.3 L1427.4,215.8 L1425.4,216.2 L1423.4,216.6 L1421.3,217.0 L1419.3,217.5 L1417.3,217.9 L1415.3,218.3 L1413.3,218.7 L1411.3,219.2 L1409.3,219.6 L1407.3,220.0 L1405.2,220.4 L1403.2,220.9 L1401.2,221.3 L1399.2,221.7 L1397.2,222.2 L1395.2,222.6 L1393.2,223.0 L1391.2,223.5 L1389.2,223.9 L1387.1,224.3 L1385.1,224.8 L1383.1,225.2 L1381.1,225.7 L1379.1,226.1 L1377.1,226.6 L1375.1,227.0 L1373.1,227.5 L1371.0,227.9 L1369.0,228.4 L1367.0,228.8 L1365.0,229.3 L1363.0,229.8 L1361.0,230.2 L1359.0,230.7 L1357.0,231.2 L1355.0,231.6 L1352.9,232.1 L1350.9,232.6 L1348.9,233.1 L1346.9,233.6 L1344.9,234.0 L1342.9,234.5 L1340.9,235.0 L1338.9,235.5 L1336.8,236.0 L1334.8,236.5 L1332.8,237.0 L1330.8,237.5 L1328.8,238.1 L1326.8,238.6 L1324.8,239.1 L1322.8,239.6 L1320.8,240.1 L1318.7,240.7 L1316.7,241.2 L1314.7,241.8 L1312.7,242.3 L1310.7,242.9 L1308.7,243.4 L1306.7,244.0 L1304.7,244.5 L1302.6,245.1 L1300.6,245.7 L1298.6,246.2 L1296.6,246.8 L1294.6,247.4 L1292.6,248.0 L1290.6,248.6 L1288.6,249.2 L1286.6,249.8 L1284.5,250.4 L1282.5,251.0 L1280.5,251.7 L1278.5,252.3 L1276.5,252.9 L1274.5,253.6 L1272.5,254.2 L1270.5,254.8 L1268.4,255.5 L1266.4,256.2 L1264.4,256.8 L1262.4,257.5 L1260.4,258.2 L1258.4,258.9 L1256.4,259.6 L1254.4,260.3 L1252.4,261.0 L1250.3,261.7 L1248.3,262.4 L1246.3,263.1 L1244.3,263.9 L1242.3,264.6 L1240.3,265.3 L1238.3,266.1 L1236.3,266.9 L1234.2,267.6 L1232.2,268.4 L1230.2,269.2 L1228.2,270.0 L1226.2,270.8 L1224.2,271.6 L1222.2,272.4 L1220.2,273.2 L1218.2,274.0 L1216.1,274.8 L1214.1,275.7 L1212.1,276.5 L1210.1,277.4 L1208.1,278.2 L1206.1,279.1 L1204.1,280.0 L1202.1,280.9 L1200.0,281.8 L1198.0,282.7 L1196.0,283.6 L1194.0,284.5 L1192.0,285.5 L1190.0,286.4 L1188.0,287.3 L1186.0,288.3 L1184.0,289.3 L1181.9,290.2 L1179.9,291.2 L1177.9,292.2 L1175.9,293.2 L1173.9,294.2 L1171.9,295.3 L1169.9,296.3 L1167.9,297.3 L1165.8,298.4 L1163.8,299.4 L1161.8,300.5 L1159.8,301.6 L1157.8,302.7 L1155.8,303.9 L1153.8,305.0 L1151.8,306.2 L1149.8,307.4 L1147.7,308.7 L1145.7,309.9 L1143.7,311.2 L1141.7,312.5 L1139.7,313.9 L1137.7,315.3 L1135.7,316.7 L1133.7,318.2 L1131.6,319.7 L1129.6,321.3 L1127.6,322.9 L1125.6,324.6 L1123.6,326.3 L1121.6,328.1 L1119.6,329.9 L1117.6,331.7 L1115.6,333.6 L1113.5,335.6 L1111.5,337.6 L1109.5,339.7 L1107.5,341.8 L1105.5,344.0 L1103.5,346.2 L1101.5,348.4 L1099.5,350.7 L1097.4,353.0 L1095.4,355.3 L1093.4,357.7 L1091.4,360.1 L1089.4,362.6 L1087.4,365.0 L1085.4,367.5 L1083.4,370.0 L1081.4,372.6 L1079.3,375.1 L1077.3,377.7 L1075.3,380.3 L1073.3,382.9 L1071.3,385.5 L1069.3,388.2 L1067.3,390.8 L1065.3,393.4 L1063.2,396.1 L1061.2,398.8 L1059.2,401.4 L1057.2,404.1 L1055.2,406.7 L1053.2,409.4 L1051.2,412.1 L1049.2,414.7 L1047.2,417.4 L1045.1,420.1 L1043.1,422.7 L1041.1,425.4 L1039.1,428.1 L1037.1,430.7 L1035.1,433.4 L1033.1,436.0 L1031.1,438.7 L1029.0,441.4 L1027.0,444.0 L1025.0,446.7 L1023.0,449.3 L1021.0,452.0 L1019.0,454.6 L1017.0,457.2 L1015.0,459.9 L1013.0,462.5 L1010.9,465.1 L1008.9,467.8 L1006.9,470.4 L1004.9,473.0 L1002.9,475.6 L1000.9,478.2 L998.9,480.8 L996.9,483.4 L994.8,486.0 L992.8,488.6 L990.8,491.1 L988.8,493.7 L986.8,496.3 L984.8,498.8 L982.8,501.4 L980.8,503.9 L978.8,506.4 L976.7,509.0 L974.7,511.5 L972.7,514.0 L970.7,516.5 L968.7,519.0 L966.7,521.5 L964.7,524.0 L962.7,526.4 L960.6,528.9 L958.6,531.3 L956.6,533.8 L954.6,536.2 L952.6,538.6 Z" fill="#ff00ff" fill-opacity="0.090" stroke="none"/>
<clipPath id="c8"><path d="M946.6,538.6 L948.6,535.5 L950.6,532.3 L952.6,529.1 L954.6,525.8 L956.7,522.5 L958.7,519.1 L960.7,515.7 L962.7,512.3 L964.7,508.9 L966.7,505.5 L968.7,502.1 L970.7,498.6 L972.8,495.3 L974.8,491.9 L976.8,488.5 L978.8,485.2 L980.8,481.8 L982.8,478.5 L984.8,475.2 L986.8,471.9 L988.8,468.6 L990.9,465.3 L992.9,462.1 L994.9,458.8 L996.9,455.6 L998.9,452.3 L1000.9,449.1 L1002.9,445.9 L1004.9,442.7 L1006.9,439.5 L1009.0,436.4 L1011.0,433.2 L1013.0,430.0 L1015.0,426.9 L1017.0,423.8 L1019.0,420.6 L1021.0,417.5 L1023.0,414.4 L1025.1,411.3 L1027.1,408.2 L1029.1,405.1 L1031.1,402.1 L1033.1,399.0 L1035.1,396.0 L1037.1,392.9 L1039.1,389.9 L1041.1,386.8 L1043.2,383.8 L1045.2,380.8 L1047.2,377.8 L1049.2,374.9 L1051.2,371.9 L1053.2,369.0 L1055.2,366.0 L1057.2,363.1 L1059.3,360.3 L1061.3,357.4 L1063.3,354.6 L1065.3,351.8 L1067.3,349.0 L1069.3,346.2 L1071.3,343.5 L1073.3,340.8 L1075.3,338.1 L1077.4,335.5 L1079.4,332.8 L1081.4,330.3 L1083.4,327.7 L1085.4,325.2 L1087.4,322.8 L1089.4,320.3 L1091.4,317.9 L1093.5,315.6 L1095.5,313.3 L1097.5,311.0 L1099.5,308.7 L1101.5,306.5 L1103.5,304.4 L1105.5,302.2 L1107.5,300.1 L1109.5,298.0 L1111.6,296.0 L1113.6,294.0 L1115.6,292.0 L1117.6,290.1 L1119.6,288.2 L1121.6,286.3 L1123.6,284.4 L1125.6,282.6 L1127.6,280.8 L1129.7,279.0 L1131.7,277.3 L1133.7,275.6 L1135.7,273.9 L1137.7,272.2 L1139.7,270.6 L1141.7,268.9 L1143.7,267.3 L1145.8,265.8 L1147.8,264.2 L1149.8,262.7 L1151.8,261.2 L1153.8,259.7 L1155.8,258.2 L1157.8,256.8 L1159.8,255.4 L1161.8,254.0 L1163.9,252.6 L1165.9,251.3 L1167.9,249.9 L1169.9,248.6 L1171.9,247.3 L1173.9,246.0 L1175.9,244.8 L1177.9,243.5 L1180.0,242.3 L1182.0,241.1 L1184.0,239.9 L1186.0,238.7 L1188.0,237.6 L1190.0,236.4 L1192.0,235.3 L1194.0,234.2 L1196.0,233.1 L1198.1,232.0 L1200.1,231.0 L1202.1,229.9 L1204.1,228.9 L1206.1,227.9 L1208.1,226.9 L1210.1,225.9 L1212.1,224.9 L1214.1,223.9 L1216.2,223.0 L1218.2,222.0 L1220.2,221.1 L1222.2,220.2 L1224.2,219.3 L1226.2,218.4 L1228.2,217.5 L1230.2,216.6 L1232.3,215.7 L1234.3,214.9 L1236.3,214.0 L1238.3,213.2 L1240.3,212.3 L1242.3,211.5 L1244.3,210.7 L1246.3,209.9 L1248.3,209.1 L1250.4,208.3 L1252.4,207.5 L1254.4,206.7 L1256.4,205.9 L1258.4,205.1 L1260.4,204.3 L1262.4,203.6 L1264.4,202.8 L1266.5,202.1 L1268.5,201.3 L1270.5,200.6 L1272.5,199.8 L1274.5,199.1 L1276.5,198.3 L1278.5,197.6 L1280.5,196.8 L1282.5,196.1 L1284.6,195.4 L1286.6,194.7 L1288.6,193.9 L1290.6,193.2 L1292.6,192.5 L1294.6,191.8 L1296.6,191.1 L1298.6,190.3 L1300.6,189.6 L1302.7,188.9 L1304.7,188.2 L1306.7,187.5 L1308.7,186.8 L1310.7,186.1 L1312.7,185.4 L1314.7,184.7 L1316.7,184.0 L1318.8,183.3 L1320.8,182.7 L1322.8,182.0 L1324.8,181.3 L1326.8,180.6 L1328.8,179.9 L1330.8,179.3 L1332.8,178.6 L1334.8,177.9 L1336.9,177.3 L1338.9,176.6 L1340.9,175.9 L1342.9,175.3 L1344.9,174.6 L1346.9,173.9 L1348.9,173.3 L1350.9,172.6 L1353.0,172.0 L1355.0,171.3 L1357.0,170.7 L1359.0,170.0 L1361.0,169.4 L1363.0,168.8 L1365.0,168.1 L1367.0,167.5 L1369.0,166.9 L1371.1,166.2 L1373.1,165.6 L1375.1,165.0 L1377.1,164.3 L1379.1,163.7 L1381.1,163.1 L1383.1,162.5 L1385.1,161.8 L1387.2,161.2 L1389.2,160.6 L1391.2,160.0 L1393.2,159.4 L1395.2,158.8 L1397.2,158.2 L1399.2,157.5 L1401.2,156.9 L1403.2,156.3 L1405.3,155.7 L1407.3,155.1 L1409.3,154.5 L1411.3,153.9 L1413.3,153.3 L1415.3,152.7 L1417.3,152.1 L1419.3,151.6 L1421.3,151.0 L1423.4,150.4 L1425.4,149.8 L1427.4,149.2 L1429.4,148.6 L1431.4,148.0 L1433.4,147.4 L1435.4,146.9 L1437.4,146.3 L1439.5,145.7 L1441.5,145.1 L1443.5,144.5 L1445.5,144.0 L1447.5,143.4 L1449.5,142.8 L1451.5,142.2 L1453.5,141.7 L1455.5,141.1 L1457.6,140.5 L1459.6,140.0 L1461.6,139.4 L1463.6,138.8 L1465.6,138.3 L1467.6,137.7 L1469.6,137.2 L1471.6,136.6 L1473.7,136.0 L1475.7,135.5 L1477.7,134.9 L1479.7,134.4 L1481.7,133.8 L1483.7,133.2 L1485.7,132.7 L1487.7,132.1 L1489.7,131.6 L1491.8,131.0 L1493.8,130.5 L1495.8,129.9 L1497.8,129.4 L1499.8,128.8 L1501.8,128.3 L1503.8,127.7 L1505.8,127.2 L1507.8,126.6 L1509.9,126.1 L1511.9,125.6 L1513.9,125.0 L1515.9,124.5 L1517.9,123.9 L1519.9,123.4 L1521.9,122.8 L1523.9,122.3 L1526.0,121.8 L1528.0,121.2 L1530.0,120.7 L1532.0,120.1 L1534.0,119.6 L1534.0,191.6 L1532.0,192.1 L1530.0,192.6 L1528.0,193.1 L1526.0,193.6 L1523.9,194.1 L1521.9,194.6 L1519.9,195.1 L1517.9,195.6 L1515.9,196.1 L1513.9,196.6 L1511.9,197.1 L1509.9,197.6 L1507.8,198.1 L1505.8,198.6 L1503.8,199.0 L1501.8,199.5 L1499.8,200.0 L1497.8,200.4 L1495.8,200.9 L1493.8,201.4 L1491.8,201.8 L1489.7,202.3 L1487.7,202.7 L1485.7,203.2 L1483.7,203.7 L1481.7,204.1 L1479.7,204.5 L1477.7,205.0 L1475.7,205.4 L1473.6,205.9 L1471.6,206.3 L1469.6,206.8 L1467.6,207.2 L1465.6,207.6 L1463.6,208.1 L1461.6,208.5 L1459.6,208.9 L1457.6,209.4 L1455.5,209.8 L1453.5,210.2 L1451.5,210.7 L1449.5,211.1 L1447.5,211.5 L1445.5,211.9 L1443.5,212.4 L1441.5,212.8 L1439.4,213.2 L1437.4,213.6 L1435.4,214.1 L1433.4,214.5 L1431.4,214.9 L1429.4,215.3 L1427.4,215.8 L1425.4,216.2 L1423.4,216.6 L1421.3,217.0 L1419.3,217.5 L1417.3,217.9 L1415.3,218.3 L1413.3,218.7 L1411.3,219.2 L1409.3,219.6 L1407.3,220.0 L1405.2,220.4 L1403.2,220.9 L1401.2,221.3 L1399.2,221.7 L1397.2,222.2 L1395.2,222.6 L1393.2,223.0 L1391.2,223.5 L1389.2,223.9 L1387.1,224.3 L1385.1,224.8 L1383.1,225.2 L1381.1,225.7 L1379.1,226.1 L1377.1,226.6 L1375.1,227.0 L1373.1,227.5 L1371.0,227.9 L1369.0,228.4 L1367.0,228.8 L1365.0,229.3 L1363.0,229.8 L1361.0,230.2 L1359.0,230.7 L1357.0,231.2 L1355.0,231.6 L1352.9,232.1 L1350.9,232.6 L1348.9,233.1 L1346.9,233.6 L1344.9,234.0 L1342.9,234.5 L1340.9,235.0 L1338.9,235.5 L1336.8,236.0 L1334.8,236.5 L1332.8,237.0 L1330.8,237.5 L1328.8,238.1 L1326.8,238.6 L1324.8,239.1 L1322.8,239.6 L1320.8,240.1 L1318.7,240.7 L1316.7,241.2 L1314.7,241.8 L1312.7,242.3 L1310.7,242.9 L1308.7,243.4 L1306.7,244.0 L1304.7,244.5 L1302.6,245.1 L1300.6,245.7 L1298.6,246.2 L1296.6,246.8 L1294.6,247.4 L1292.6,248.0 L1290.6,248.6 L1288.6,249.2 L1286.6,249.8 L1284.5,250.4 L1282.5,251.0 L1280.5,251.7 L1278.5,252.3 L1276.5,252.9 L1274.5,253.6 L1272.5,254.2 L1270.5,254.8 L1268.4,255.5 L1266.4,256.2 L1264.4,256.8 L1262.4,257.5 L1260.4,258.2 L1258.4,258.9 L1256.4,259.6 L1254.4,260.3 L1252.4,261.0 L1250.3,261.7 L1248.3,262.4 L1246.3,263.1 L1244.3,263.9 L1242.3,264.6 L1240.3,265.3 L1238.3,266.1 L1236.3,266.9 L1234.2,267.6 L1232.2,268.4 L1230.2,269.2 L1228.2,270.0 L1226.2,270.8 L1224.2,271.6 L1222.2,272.4 L1220.2,273.2 L1218.2,274.0 L1216.1,274.8 L1214.1,275.7 L1212.1,276.5 L1210.1,277.4 L1208.1,278.2 L1206.1,279.1 L1204.1,280.0 L1202.1,280.9 L1200.0,281.8 L1198.0,282.7 L1196.0,283.6 L1194.0,284.5 L1192.0,285.5 L1190.0,286.4 L1188.0,287.3 L1186.0,288.3 L1184.0,289.3 L1181.9,290.2 L1179.9,291.2 L1177.9,292.2 L1175.9,293.2 L1173.9,294.2 L1171.9,295.3 L1169.9,296.3 L1167.9,297.3 L1165.8,298.4 L1163.8,299.4 L1161.8,300.5 L1159.8,301.6 L1157.8,302.7 L1155.8,303.9 L1153.8,305.0 L1151.8,306.2 L1149.8,307.4 L1147.7,308.7 L1145.7,309.9 L1143.7,311.2 L1141.7,312.5 L1139.7,313.9 L1137.7,315.3 L1135.7,316.7 L1133.7,318.2 L1131.6,319.7 L1129.6,321.3 L1127.6,322.9 L1125.6,324.6 L1123.6,326.3 L1121.6,328.1 L1119.6,329.9 L1117.6,331.7 L1115.6,333.6 L1113.5,335.6 L1111.5,337.6 L1109.5,339.7 L1107.5,341.8 L1105.5,344.0 L1103.5,346.2 L1101.5,348.4 L1099.5,350.7 L1097.4,353.0 L1095.4,355.3 L1093.4,357.7 L1091.4,360.1 L1089.4,362.6 L1087.4,365.0 L1085.4,367.5 L1083.4,370.0 L1081.4,372.6 L1079.3,375.1 L1077.3,377.7 L1075.3,380.3 L1073.3,382.9 L1071.3,385.5 L1069.3,388.2 L1067.3,390.8 L1065.3,393.4 L1063.2,396.1 L1061.2,398.8 L1059.2,401.4 L1057.2,404.1 L1055.2,406.7 L1053.2,409.4 L1051.2,412.1 L1049.2,414.7 L1047.2,417.4 L1045.1,420.1 L1043.1,422.7 L1041.1,425.4 L1039.1,428.1 L1037.1,430.7 L1035.1,433.4 L1033.1,436.0 L1031.1,438.7 L1029.0,441.4 L1027.0,444.0 L1025.0,446.7 L1023.0,449.3 L1021.0,452.0 L1019.0,454.6 L1017.0,457.2 L1015.0,459.9 L1013.0,462.5 L1010.9,465.1 L1008.9,467.8 L1006.9,470.4 L1004.9,473.0 L1002.9,475.6 L1000.9,478.2 L998.9,480.8 L996.9,483.4 L994.8,486.0 L992.8,488.6 L990.8,491.1 L988.8,493.7 L986.8,496.3 L984.8,498.8 L982.8,501.4 L980.8,503.9 L978.8,506.4 L976.7,509.0 L974.7,511.5 L972.7,514.0 L970.7,516.5 L968.7,519.0 L966.7,521.5 L964.7,524.0 L962.7,526.4 L960.6,528.9 L958.6,531.3 L956.6,533.8 L954.6,536.2 L952.6,538.6 Z"/></clipPath>
<path d="M960.5,100V545M992.5,100V545M1024.5,100V545M1056.5,100V545M1089.5,100V545M1121.5,100V545M1153.5,100V545M1186.5,100V545M1218.5,100V545M1250.5,100V545M1283.5,100V545M1315.5,100V545M1347.5,100V545M1379.5,100V545M1412.5,100V545M1444.5,100V545M1476.5,100V545M1509.5,100V545" stroke="#ff00ff" stroke-opacity="0.08" stroke-width="1.0" clip-path="url(#c8)"/>
<linearGradient id="g9" gradientUnits="userSpaceOnUse" x1="1100.0" y1="0" x2="1180.0" y2="0"><stop offset="0" stop-color="#cc33cc" stop-opacity="0"/><stop offset="1" stop-color="#cc33cc" stop-opacity="0.40"/></linearGradient>
<linearGradient id="g10" gradientUnits="userSpaceOnUse" x1="1100.0" y1="0" x2="1150.0" y2="0"><stop offset="0" stop-color="#cc33cc" stop-opacity="0"/><stop offset="1" stop-color="#cc33cc" stop-opacity="0.40"/></linearGradient>
<path d="M946.6,538.6 L948.6,535.5 L950.6,532.3 L952.6,529.1 L954.6,525.8 L956.7,522.5 L958.7,519.1 L960.7,515.7 L962.7,512.3 L964.7,508.9 L966.7,505.5 L968.7,502.1 L970.7,498.6 L972.8,495.3 L974.8,491.9 L976.8,488.5 L978.8,485.2 L980.8,481.8 L982.8,478.5 L984.8,475.2 L986.8,471.9 L988.8,468.6 L990.9,465.3 L992.9,462.1 L994.9,458.8 L996.9,455.6 L998.9,452.3 L1000.9,449.1 L1002.9,445.9 L1004.9,442.7 L1006.9,439.5 L1009.0,436.4 L1011.0,433.2 L1013.0,430.0 L1015.0,426.9 L1017.0,423.8 L1019.0,420.6 L1021.0,417.5 L1023.0,414.4 L1025.1,411.3 L1027.1,408.2 L1029.1,405.1 L1031.1,402.1 L1033.1,399.0 L1035.1,396.0 L1037.1,392.9 L1039.1,389.9 L1041.1,386.8 L1043.2,383.8 L1045.2,380.8 L1047.2,377.8 L1049.2,374.9 L1051.2,371.9 L1053.2,369.0 L1055.2,366.0 L1057.2,363.1 L1059.3,360.3 L1061.3,357.4 L1063.3,354.6 L1065.3,351.8 L1067.3,349.0 L1069.3,346.2 L1071.3,343.5 L1073.3,340.8 L1075.3,338.1 L1077.4,335.5 L1079.4,332.8 L1081.4,330.3 L1083.4,327.7 L1085.4,325.2 L1087.4,322.8 L1089.4,320.3 L1091.4,317.9 L1093.5,315.6 L1095.5,313.3 L1097.5,311.0 L1099.5,308.7 L1101.5,306.5 L1103.5,304.4 L1105.5,302.2 L1107.5,300.1 L1109.5,298.0 L1111.6,296.0 L1113.6,294.0 L1115.6,292.0 L1117.6,290.1 L1119.6,288.2 L1121.6,286.3 L1123.6,284.4 L1125.6,282.6 L1127.6,280.8 L1129.7,279.0 L1131.7,277.3 L1133.7,275.6 L1135.7,273.9 L1137.7,272.2 L1139.7,270.6 L1141.7,268.9 L1143.7,267.3 L1145.8,265.8 L1147.8,264.2 L1149.8,262.7 L1151.8,261.2 L1153.8,259.7 L1155.8,258.2 L1157.8,256.8 L1159.8,255.4 L1161.8,254.0 L1163.9,252.6 L1165.9,251.3 L1167.9,249.9 L1169.9,248.6 L1171.9,247.3 L1173.9,246.0 L1175.9,244.8 L1177.9,243.5 L1180.0,242.3 L1182.0,241.1 L1184.0,239.9 L1186.0,238.7 L1188.0,237.6 L1190.0,236.4 L1192.0,235.3 L1194.0,234.2 L1196.0,233.1 L1198.1,232.0 L1200.1,231.0 L1202.1,229.9 L1204.1,228.9 L1206.1,227.9 L1208.1,226.9 L1210.1,225.9 L1212.1,224.9 L1214.1,223.9 L1216.2,223.0 L1218.2,222.0 L1220.2,221.1 L1222.2,220.2 L1224.2,219.3 L1226.2,218.4 L1228.2,217.5 L1230.2,216.6 L1232.3,215.7 L1234.3,214.9 L1236.3,214.0 L1238.3,213.2 L1240.3,212.3 L1242.3,211.5 L1244.3,210.7 L1246.3,209.9 L1248.3,209.1 L1250.4,208.3 L1252.4,207.5 L1254.4,206.7 L1256.4,205.9 L1258.4,205.1 L1260.4,204.3 L1262.4,203.6 L1264.4,202.8 L1266.5,202.1 L1268.5,201.3 L1270.5,200.6 L1272.5,199.8 L1274.5,199.1 L1276.5,198.3 L1278.5,197.6 L1280.5,196.8 L1282.5,196.1 L1284.6,195.4 L1286.6,194.7 L1288.6,193.9 L1290.6,193.2 L1292.6,192.5 L1294.6,191.8 L1296.6,191.1 L1298.6,190.3 L1300.6,189.6 L1302.7,188.9 L1304.7,188.2 L1306.7,187.5 L1308.7,186.8 L1310.7,186.1 L1312.7,185.4 L1314.7,184.7 L1316.7,184.0 L1318.8,183.3 L1320.8,182.7 L1322.8,182.0 L1324.8,181.3 L1326.8,180.6 L1328.8,179.9 L1330.8,179.3 L1332.8,178.6 L1334.8,177.9 L1336.9,177.3 L1338.9,176.6 L1340.9,175.9 L1342.9,175.3 L1344.9,174.6 L1346.9,173.9 L1348.9,173.3 L1350.9,172.6 L1353.0,172.0 L1355.0,171.3 L1357.0,170.7 L1359.0,170.0 L1361.0,169.4 L1363.0,168.8 L1365.0,168.1 L1367.0,167.5 L1369.0,166.9 L1371.1,166.2 L1373.1,165.6 L1375.1,165.0 L1377.1,164.3 L1379.1,163.7 L1381.1,163.1 L1383.1,162.5 L1385.1,161.8 L1387.2,161.2 L1389.2,160.6 L1391.2,160.0 L1393.2,159.4 L1395.2,158.8 L1397.2,158.2 L1399.2,157.5 L1401.2,156.9 L1403.2,156.3 L1405.3,155.7 L1407.3,155.1 L1409.3,154.5 L1411.3,153.9 L1413.3,153.3 L1415.3,152.7 L1417.3,152.1 L1419.3,151.6 L1421.3,151.0 L1423.4,150.4 L1425.4,149.8 L1427.4,149.2 L1429.4,148.6 L1431.4,148.0 L1433.4,147.4 L1435.4,146.9 L1437.4,146.3 L1439.5,145.7 L1441.5,145.1 L1443.5,144.5 L1445.5,144.0 L1447.5,143.4 L1449.5,142.8 L1451.5,142.2 L1453.5,141.7 L1455.5,141.1 L1457.6,140.5 L1459.6,140.0 L1461.6,139.4 L1463.6,138.8 L1465.6,138.3 L1467.6,137.7 L1469.6,137.2 L1471.6,136.6 L1473.7,136.0 L1475.7,135.5 L1477.7,134.9 L1479.7,134.4 L1481.7,133.8 L1483.7,133.2 L1485.7,132.7 L1487.7,132.1 L1489.7,131.6 L1491.8,131.0 L1493.8,130.5 L1495.8,129.9 L1497.8,129.4 L1499.8,128.8 L1501.8,128.3 L1503.8,127.7 L1505.8,127.2 L1507.8,126.6 L1509.9,126.1 L1511.9,125.6 L1513.9,125.0 L1515.9,124.5 L1517.9,123.9 L1519.9,123.4 L1521.9,122.8 L1523.9,122.3 L1526.0,121.8 L1528.0,121.2 L1530.0,120.7 L1532.0,120.1 L1534.0,119.6" fill="none" stroke="url(#g9)" stroke-width="2.0"/>
<path d="M952.6,538.6 L954.6,536.2 L956.6,533.8 L958.6,531.3 L960.6,528.9 L962.7,526.4 L964.7,524.0 L966.7,521.5 L968.7,519.0 L970.7,516.5 L972.7,514.0 L974.7,511.5 L976.7,509.0 L978.8,506.4 L980.8,503.9 L982.8,501.4 L984.8,498.8 L986.8,496.3 L988.8,493.7 L990.8,491.1 L992.8,488.6 L994.8,486.0 L996.9,483.4 L998.9,480.8 L1000.9,478.2 L1002.9,475.6 L1004.9,473.0 L1006.9,470.4 L1008.9,467.8 L1010.9,465.1 L1013.0,462.5 L1015.0,459.9 L1017.0,457.2 L1019.0,454.6 L1021.0,452.0 L1023.0,449.3 L1025.0,446.7 L1027.0,444.0 L1029.0,441.4 L1031.1,438.7 L1033.1,436.0 L1035.1,433.4 L1037.1,430.7 L1039.1,428.1 L1041.1,425.4 L1043.1,422.7 L1045.1,420.1 L1047.2,417.4 L1049.2,414.7 L1051.2,412.1 L1053.2,409.4 L1055.2,406.7 L1057.2,404.1 L1059.2,401.4 L1061.2,398.8 L1063.2,396.1 L1065.3,393.4 L1067.3,390.8 L1069.3,388.2 L1071.3,385.5 L1073.3,382.9 L1075.3,380.3 L1077.3,377.7 L1079.3,375.1 L1081.4,372.6 L1083.4,370.0 L1085.4,367.5 L1087.4,365.0 L1089.4,362.6 L1091.4,360.1 L1093.4,357.7 L1095.4,355.3 L1097.4,353.0 L1099.5,350.7 L1101.5,348.4 L1103.5,346.2 L1105.5,344.0 L1107.5,341.8 L1109.5,339.7 L1111.5,337.6 L1113.5,335.6 L1115.6,333.6 L1117.6,331.7 L1119.6,329.9 L1121.6,328.1 L1123.6,326.3 L1125.6,324.6 L1127.6,322.9 L1129.6,321.3 L1131.6,319.7 L1133.7,318.2 L1135.7,316.7 L1137.7,315.3 L1139.7,313.9 L1141.7,312.5 L1143.7,311.2 L1145.7,309.9 L1147.7,308.7 L1149.8,307.4 L1151.8,306.2 L1153.8,305.0 L1155.8,303.9 L1157.8,302.7 L1159.8,301.6 L1161.8,300.5 L1163.8,299.4 L1165.8,298.4 L1167.9,297.3 L1169.9,296.3 L1171.9,295.3 L1173.9,294.2 L1175.9,293.2 L1177.9,292.2 L1179.9,291.2 L1181.9,290.2 L1184.0,289.3 L1186.0,288.3 L1188.0,287.3 L1190.0,286.4 L1192.0,285.5 L1194.0,284.5 L1196.0,283.6 L1198.0,282.7 L1200.0,281.8 L1202.1,280.9 L1204.1,280.0 L1206.1,279.1 L1208.1,278.2 L1210.1,277.4 L1212.1,276.5 L1214.1,275.7 L1216.1,274.8 L1218.2,274.0 L1220.2,273.2 L1222.2,272.4 L1224.2,271.6 L1226.2,270.8 L1228.2,270.0 L1230.2,269.2 L1232.2,268.4 L1234.2,267.6 L1236.3,266.9 L1238.3,266.1 L1240.3,265.3 L1242.3,264.6 L1244.3,263.9 L1246.3,263.1 L1248.3,262.4 L1250.3,261.7 L1252.4,261.0 L1254.4,260.3 L1256.4,259.6 L1258.4,258.9 L1260.4,258.2 L1262.4,257.5 L1264.4,256.8 L1266.4,256.2 L1268.4,255.5 L1270.5,254.8 L1272.5,254.2 L1274.5,253.6 L1276.5,252.9 L1278.5,252.3 L1280.5,251.7 L1282.5,251.0 L1284.5,250.4 L1286.6,249.8 L1288.6,249.2 L1290.6,248.6 L1292.6,248.0 L1294.6,247.4 L1296.6,246.8 L1298.6,246.2 L1300.6,245.7 L1302.6,245.1 L1304.7,244.5 L1306.7,244.0 L1308.7,243.4 L1310.7,242.9 L1312.7,242.3 L1314.7,241.8 L1316.7,241.2 L1318.7,240.7 L1320.8,240.1 L1322.8,239.6 L1324.8,239.1 L1326.8,238.6 L1328.8,238.1 L1330.8,237.5 L1332.8,237.0 L1334.8,236.5 L1336.8,236.0 L1338.9,235.5 L1340.9,235.0 L1342.9,234.5 L1344.9,234.0 L1346.9,233.6 L1348.9,233.1 L1350.9,232.6 L1352.9,232.1 L1355.0,231.6 L1357.0,231.2 L1359.0,230.7 L1361.0,230.2 L1363.0,229.8 L1365.0,229.3 L1367.0,228.8 L1369.0,228.4 L1371.0,227.9 L1373.1,227.5 L1375.1,227.0 L1377.1,226.6 L1379.1,226.1 L1381.1,225.7 L1383.1,225.2 L1385.1,224.8 L1387.1,224.3 L1389.2,223.9 L1391.2,223.5 L1393.2,223.0 L1395.2,222.6 L1397.2,222.2 L1399.2,221.7 L1401.2,221.3 L1403.2,220.9 L1405.2,220.4 L1407.3,220.0 L1409.3,219.6 L1411.3,219.2 L1413.3,218.7 L1415.3,218.3 L1417.3,217.9 L1419.3,217.5 L1421.3,217.0 L1423.4,216.6 L1425.4,216.2 L1427.4,215.8 L1429.4,215.3 L1431.4,214.9 L1433.4,214.5 L1435.4,214.1 L1437.4,213.6 L1439.4,213.2 L1441.5,212.8 L1443.5,212.4 L1445.5,211.9 L1447.5,211.5 L1449.5,211.1 L1451.5,210.7 L1453.5,210.2 L1455.5,209.8 L1457.6,209.4 L1459.6,208.9 L1461.6,208.5 L1463.6,208.1 L1465.6,207.6 L1467.6,207.2 L1469.6,206.8 L1471.6,206.3 L1473.6,205.9 L1475.7,205.4 L1477.7,205.0 L1479.7,204.5 L1481.7,204.1 L1483.7,203.7 L1485.7,203.2 L1487.7,202.7 L1489.7,202.3 L1491.8,201.8 L1493.8,201.4 L1495.8,200.9 L1497.8,200.4 L1499.8,200.0 L1501.8,199.5 L1503.8,199.0 L1505.8,198.6 L1507.8,198.1 L1509.9,197.6 L1511.9,197.1 L1513.9,196.6 L1515.9,196.1 L1517.9,195.6 L1519.9,195.1 L1521.9,194.6 L1523.9,194.1 L1526.0,193.6 L1528.0,193.1 L1530.0,192.6 L1532.0,192.1 L1534.0,191.6" fill="none" stroke="url(#g10)" stroke-width="2.0"/>
<path d="M946.6,538.6 L948.6,536.9 L950.6,535.1 L952.6,533.3 L954.7,531.4 L956.7,529.5 L958.7,527.6 L960.7,525.7 L962.7,523.8 L964.7,521.8 L966.7,519.8 L968.7,517.8 L970.8,515.8 L972.8,513.8 L974.8,511.7 L976.8,509.7 L978.8,507.6 L980.8,505.5 L982.8,503.5 L984.9,501.4 L986.9,499.3 L988.9,497.2 L990.9,495.1 L992.9,493.1 L994.9,491.0 L996.9,488.9 L999.0,486.9 L1001.0,484.8 L1003.0,482.8 L1005.0,480.8 L1007.0,478.7 L1009.0,476.7 L1011.0,474.7 L1013.0,472.7 L1015.1,470.7 L1017.1,468.8 L1019.1,466.8 L1021.1,464.9 L1023.1,462.9 L1025.1,461.0 L1027.1,459.1 L1029.2,457.2 L1031.2,455.3 L1033.2,453.4 L1035.2,451.6 L1037.2,449.7 L1039.2,447.9 L1041.2,446.1 L1043.2,444.3 L1045.3,442.5 L1047.3,440.7 L1049.3,438.9 L1051.3,437.2 L1053.3,435.5 L1055.3,433.8 L1057.3,432.1 L1059.4,430.4 L1061.4,428.8 L1063.4,427.1 L1065.4,425.5 L1067.4,423.9 L1069.4,422.3 L1071.4,420.8 L1073.5,419.3 L1075.5,417.7 L1077.5,416.2 L1079.5,414.8 L1081.5,413.3 L1083.5,411.9 L1085.5,410.5 L1087.5,409.1 L1089.6,407.7 L1091.6,406.3 L1093.6,405.0 L1095.6,403.7 L1097.6,402.4 L1099.6,401.1 L1101.6,399.9 L1103.7,398.6 L1105.7,397.4 L1107.7,396.2 L1109.7,395.0 L1111.7,393.8 L1113.7,392.6 L1115.7,391.5 L1117.7,390.4 L1119.8,389.3 L1121.8,388.2 L1123.8,387.1 L1125.8,386.0 L1127.8,385.0 L1129.8,384.0 L1131.8,382.9 L1133.9,381.9 L1135.9,380.9 L1137.9,380.0 L1139.9,379.0 L1141.9,378.1 L1143.9,377.1 L1145.9,376.2 L1148.0,375.3 L1150.0,374.4 L1152.0,373.5 L1154.0,372.6 L1156.0,371.8 L1158.0,370.9 L1160.0,370.1 L1162.0,369.3 L1164.1,368.5 L1166.1,367.7 L1168.1,366.9 L1170.1,366.1 L1172.1,365.3 L1174.1,364.6 L1176.1,363.8 L1178.2,363.1 L1180.2,362.4 L1182.2,361.6 L1184.2,360.9 L1186.2,360.2 L1188.2,359.5 L1190.2,358.9 L1192.2,358.2 L1194.3,357.5 L1196.3,356.8 L1198.3,356.2 L1200.3,355.5 L1202.3,354.9 L1204.3,354.3 L1206.3,353.6 L1208.4,353.0 L1210.4,352.4 L1212.4,351.8 L1214.4,351.2 L1216.4,350.6 L1218.4,350.0 L1220.4,349.4 L1222.5,348.8 L1224.5,348.3 L1226.5,347.7 L1228.5,347.1 L1230.5,346.6 L1232.5,346.0 L1234.5,345.4 L1236.5,344.9 L1238.6,344.3 L1240.6,343.8 L1242.6,343.2 L1244.6,342.7 L1246.6,342.1 L1248.6,341.6 L1250.6,341.1 L1252.7,340.5 L1254.7,340.0 L1256.7,339.5 L1258.7,338.9 L1260.7,338.4 L1262.7,337.9 L1264.7,337.3 L1266.8,336.8 L1268.8,336.3 L1270.8,335.8 L1272.8,335.3 L1274.8,334.8 L1276.8,334.2 L1278.8,333.7 L1280.8,333.2 L1282.9,332.7 L1284.9,332.2 L1286.9,331.7 L1288.9,331.2 L1290.9,330.7 L1292.9,330.2 L1294.9,329.8 L1297.0,329.3 L1299.0,328.8 L1301.0,328.3 L1303.0,327.8 L1305.0,327.4 L1307.0,326.9 L1309.0,326.5 L1311.0,326.0 L1313.1,325.5 L1315.1,325.1 L1317.1,324.6 L1319.1,324.2 L1321.1,323.8 L1323.1,323.3 L1325.1,322.9 L1327.2,322.5 L1329.2,322.1 L1331.2,321.6 L1333.2,321.2 L1335.2,320.8 L1337.2,320.4 L1339.2,320.0 L1341.3,319.6 L1343.3,319.2 L1345.3,318.9 L1347.3,318.5 L1349.3,318.1 L1351.3,317.7 L1353.3,317.4 L1355.3,317.0 L1357.4,316.7 L1359.4,316.3 L1361.4,316.0 L1363.4,315.7 L1365.4,315.3 L1367.4,315.0 L1369.4,314.7 L1371.5,314.4 L1373.5,314.1 L1375.5,313.8 L1377.5,313.5 L1379.5,313.2 L1381.5,312.9 L1383.5,312.6 L1385.5,312.4 L1387.6,312.1 L1389.6,311.9 L1391.6,311.6 L1393.6,311.4 L1395.6,311.1 L1397.6,310.9 L1399.6,310.7 L1401.7,310.5 L1403.7,310.3 L1405.7,310.1 L1407.7,309.9 L1409.7,309.7 L1411.7,309.5 L1413.7,309.4 L1415.8,309.2 L1417.8,309.1 L1419.8,308.9 L1421.8,308.8 L1423.8,308.7 L1425.8,308.5 L1427.8,308.4 L1429.8,308.3 L1431.9,308.2 L1433.9,308.2 L1435.9,308.1 L1437.9,308.0" fill="none" stroke="#000" stroke-width="3.45" stroke-linejoin="round" stroke-linecap="round"/>
<path d="M951.0,538.6 L953.0,536.5 L955.0,534.3 L957.0,532.0 L959.0,529.6 L961.0,527.0 L963.0,524.4 L965.1,521.6 L967.1,518.8 L969.1,515.9 L971.1,513.0 L973.1,509.9 L975.1,506.9 L977.1,503.8 L979.1,500.6 L981.1,497.5 L983.1,494.3 L985.1,491.1 L987.1,487.9 L989.1,484.8 L991.1,481.7 L993.2,478.6 L995.2,475.5 L997.2,472.5 L999.2,469.5 L1001.2,466.6 L1003.2,463.8 L1005.2,461.1 L1007.2,458.4 L1009.2,455.8 L1011.2,453.2 L1013.2,450.7 L1015.2,448.3 L1017.2,445.9 L1019.3,443.6 L1021.3,441.3 L1023.3,439.1 L1025.3,437.0 L1027.3,434.9 L1029.3,432.9 L1031.3,430.9 L1033.3,428.9 L1035.3,427.0 L1037.3,425.1 L1039.3,423.3 L1041.3,421.4 L1043.3,419.6 L1045.3,417.8 L1047.4,416.0 L1049.4,414.3 L1051.4,412.5 L1053.4,410.7 L1055.4,409.0 L1057.4,407.2 L1059.4,405.5 L1061.4,403.8 L1063.4,402.1 L1065.4,400.5 L1067.4,398.9 L1069.4,397.3 L1071.4,395.7 L1073.4,394.2 L1075.5,392.8 L1077.5,391.4 L1079.5,390.0 L1081.5,388.7 L1083.5,387.4 L1085.5,386.1 L1087.5,384.9 L1089.5,383.8 L1091.5,382.6 L1093.5,381.5 L1095.5,380.4 L1097.5,379.4 L1099.5,378.4 L1101.6,377.4 L1103.6,376.4 L1105.6,375.5 L1107.6,374.6 L1109.6,373.7 L1111.6,372.9 L1113.6,372.0 L1115.6,371.2 L1117.6,370.4 L1119.6,369.7 L1121.6,368.9 L1123.6,368.2 L1125.6,367.5 L1127.6,366.8 L1129.7,366.1 L1131.7,365.4 L1133.7,364.8 L1135.7,364.1 L1137.7,363.5 L1139.7,362.9 L1141.7,362.3 L1143.7,361.7 L1145.7,361.1 L1147.7,360.5 L1149.7,359.9 L1151.7,359.3 L1153.7,358.7 L1155.8,358.1 L1157.8,357.6 L1159.8,357.0 L1161.8,356.4 L1163.8,355.9 L1165.8,355.3 L1167.8,354.7 L1169.8,354.2 L1171.8,353.6 L1173.8,353.1 L1175.8,352.5 L1177.8,352.0 L1179.8,351.4 L1181.8,350.9 L1183.9,350.4 L1185.9,349.8 L1187.9,349.3 L1189.9,348.8 L1191.9,348.3 L1193.9,347.7 L1195.9,347.2 L1197.9,346.7 L1199.9,346.2 L1201.9,345.7 L1203.9,345.2 L1205.9,344.7 L1207.9,344.2 L1209.9,343.7 L1212.0,343.2 L1214.0,342.7 L1216.0,342.2 L1218.0,341.7 L1220.0,341.2 L1222.0,340.7 L1224.0,340.2 L1226.0,339.7 L1228.0,339.3 L1230.0,338.8 L1232.0,338.3 L1234.0,337.8 L1236.0,337.4 L1238.1,336.9 L1240.1,336.4 L1242.1,336.0 L1244.1,335.5 L1246.1,335.1 L1248.1,334.6 L1250.1,334.2 L1252.1,333.7 L1254.1,333.2 L1256.1,332.8 L1258.1,332.4 L1260.1,331.9 L1262.1,331.5 L1264.1,331.0 L1266.2,330.6 L1268.2,330.2 L1270.2,329.7 L1272.2,329.3 L1274.2,328.9 L1276.2,328.4 L1278.2,328.0 L1280.2,327.6 L1282.2,327.1 L1284.2,326.7 L1286.2,326.3 L1288.2,325.9 L1290.2,325.5 L1292.3,325.0 L1294.3,324.6 L1296.3,324.2 L1298.3,323.8 L1300.3,323.4 L1302.3,323.0 L1304.3,322.6 L1306.3,322.2 L1308.3,321.8 L1310.3,321.4 L1312.3,321.0 L1314.3,320.6 L1316.3,320.2 L1318.3,319.8 L1320.4,319.4 L1322.4,319.0 L1324.4,318.6 L1326.4,318.2 L1328.4,317.8 L1330.4,317.4 L1332.4,317.0 L1334.4,316.6 L1336.4,316.2 L1338.4,315.8 L1340.4,315.5 L1342.4,315.1 L1344.4,314.7 L1346.4,314.3 L1348.5,313.9 L1350.5,313.5 L1352.5,313.2 L1354.5,312.8 L1356.5,312.4 L1358.5,312.0 L1360.5,311.6 L1362.5,311.3 L1364.5,310.9 L1366.5,310.5 L1368.5,310.1 L1370.5,309.7 L1372.5,309.4 L1374.6,309.0 L1376.6,308.6 L1378.6,308.3 L1380.6,307.9 L1382.6,307.5 L1384.6,307.1 L1386.6,306.8 L1388.6,306.4 L1390.6,306.0 L1392.6,305.6 L1394.6,305.3 L1396.6,304.9 L1398.6,304.5 L1400.6,304.2 L1402.7,303.8 L1404.7,303.4 L1406.7,303.1 L1408.7,302.7 L1410.7,302.3 L1412.7,301.9 L1414.7,301.6 L1416.7,301.2 L1418.7,300.8 L1420.7,300.5 L1422.7,300.1 L1424.7,299.7 L1426.7,299.4 L1428.8,299.0 L1430.8,298.6 L1432.8,298.2 L1434.8,297.9 L1436.8,297.5 L1438.8,297.1 L1440.8,296.8 L1442.8,296.4 L1444.8,296.0 L1446.8,295.6 L1448.8,295.3 L1450.8,294.9 L1452.8,294.5 L1454.8,294.1 L1456.9,293.8 L1458.9,293.4 L1460.9,293.0 L1462.9,292.6 L1464.9,292.3 L1466.9,291.9 L1468.9,291.5 L1470.9,291.1 L1472.9,290.7 L1474.9,290.4 L1476.9,290.0 L1478.9,289.6 L1480.9,289.2 L1482.9,288.8 L1485.0,288.5 L1487.0,288.1 L1489.0,287.7 L1491.0,287.3 L1493.0,286.9 L1495.0,286.5 L1497.0,286.1 L1499.0,285.7 L1501.0,285.3 L1503.0,284.9 L1505.0,284.5 L1507.0,284.2 L1509.0,283.8 L1511.1,283.4 L1513.1,283.0 L1515.1,282.6 L1517.1,282.2 L1519.1,281.7 L1521.1,281.3 L1523.1,280.9 L1525.1,280.5 L1527.1,280.1 L1529.1,279.7 L1531.1,279.3 L1533.1,278.9 L1535.1,278.5 L1537.1,278.1 L1539.2,277.6 L1541.2,277.2 L1543.2,276.8 L1545.2,276.4 L1547.2,275.9 L1549.2,275.5 L1551.2,275.1 L1551.2,275.1 L1573.6,274.9" fill="none" stroke="#ff0000" stroke-width="3.45" stroke-linejoin="round" stroke-linecap="round"/>
<path d="M946.6,538.6 L948.6,536.0 L950.6,533.4 L952.7,530.7 L954.7,527.9 L956.7,525.1 L958.7,522.2 L960.8,519.3 L962.8,516.3 L964.8,513.3 L966.8,510.3 L968.9,507.3 L970.9,504.2 L972.9,501.1 L974.9,498.0 L977.0,494.9 L979.0,491.8 L981.0,488.6 L983.0,485.5 L985.1,482.4 L987.1,479.2 L989.1,476.1 L991.1,472.9 L993.1,469.8 L995.2,466.6 L997.2,463.5 L999.2,460.3 L1001.2,457.2 L1003.3,454.0 L1005.3,450.9 L1007.3,447.7 L1009.3,444.6 L1011.4,441.5 L1013.4,438.4 L1015.4,435.3 L1017.4,432.2 L1019.5,429.1 L1021.5,426.0 L1023.5,422.9 L1025.5,419.9 L1027.6,416.9 L1029.6,413.8 L1031.6,410.8 L1033.6,407.8 L1035.7,404.9 L1037.7,401.9 L1039.7,399.0 L1041.7,396.1 L1043.7,393.2 L1045.8,390.3 L1047.8,387.4 L1049.8,384.6 L1051.8,381.8 L1053.9,379.0 L1055.9,376.2 L1057.9,373.4 L1059.9,370.6 L1062.0,367.9 L1064.0,365.2 L1066.0,362.5 L1068.0,359.8 L1070.1,357.2 L1072.1,354.5 L1074.1,351.9 L1076.1,349.3 L1078.2,346.7 L1080.2,344.2 L1082.2,341.6 L1084.2,339.1 L1086.2,336.6 L1088.3,334.2 L1090.3,331.7 L1092.3,329.3 L1094.3,326.8 L1096.4,324.4 L1098.4,322.1 L1100.4,319.7 L1102.4,317.4 L1104.5,315.1 L1106.5,312.8 L1108.5,310.5 L1110.5,308.3 L1112.6,306.0 L1114.6,303.8 L1116.6,301.7 L1118.6,299.5 L1120.7,297.4 L1122.7,295.2 L1124.7,293.2 L1126.7,291.1 L1128.8,289.0 L1130.8,287.0 L1132.8,285.0 L1134.8,283.0 L1136.8,281.1 L1138.9,279.1 L1140.9,277.2 L1142.9,275.3 L1144.9,273.5 L1147.0,271.6 L1149.0,269.8 L1151.0,268.0 L1153.0,266.2 L1155.1,264.5 L1157.1,262.8 L1159.1,261.1 L1161.1,259.4 L1163.2,257.8 L1165.2,256.1 L1167.2,254.5 L1169.2,253.0 L1171.3,251.4 L1173.3,249.9 L1175.3,248.4 L1178.5,248.6 L1180.5,246.9 L1182.6,245.2 L1184.6,243.5 L1186.6,241.8 L1188.7,240.2 L1190.7,238.6 L1192.8,237.0 L1194.8,235.5 L1196.8,233.9 L1198.9,232.4 L1200.9,230.9 L1202.9,229.5 L1205.0,228.0 L1207.0,226.6 L1209.1,225.2 L1211.1,223.8 L1213.1,222.4 L1215.2,221.1 L1217.2,219.8 L1219.2,218.4 L1221.3,217.2 L1223.3,215.9 L1225.4,214.6 L1227.4,213.4 L1229.4,212.2 L1231.5,211.0 L1233.5,209.8 L1235.5,208.6 L1237.6,207.5 L1239.6,206.3 L1241.7,205.2 L1243.7,204.1 L1245.7,203.0 L1247.8,201.9 L1249.8,200.9 L1251.8,199.8 L1253.9,198.8 L1255.9,197.7 L1258.0,196.7 L1260.0,195.7 L1262.0,194.7 L1264.1,193.8 L1266.1,192.8 L1268.1,191.9 L1270.2,190.9 L1272.2,190.0 L1274.3,189.1 L1276.3,188.1 L1278.3,187.2 L1280.4,186.3 L1282.4,185.5 L1284.4,184.6 L1286.5,183.7 L1288.5,182.9 L1290.6,182.0 L1292.6,181.1 L1294.6,180.3 L1296.7,179.5 L1298.7,178.6 L1300.7,177.8 L1302.8,177.0 L1304.8,176.2 L1306.9,175.4 L1308.9,174.6 L1310.9,173.8 L1313.0,173.0 L1315.0,172.2" fill="none" stroke="#0000ff" stroke-width="3.45" stroke-linejoin="round" stroke-linecap="round"/>
<path d="M952.6,538.6 L954.6,536.0 L956.6,533.3 L958.6,530.6 L960.6,527.9 L962.6,525.1 L964.6,522.2 L966.7,519.3 L968.7,516.3 L970.7,513.3 L972.7,510.3 L974.7,507.3 L976.7,504.2 L978.7,501.0 L980.7,497.9 L982.7,494.7 L984.7,491.5 L986.7,488.3 L988.7,485.0 L990.8,481.8 L992.8,478.5 L994.8,475.2 L996.8,472.0 L998.8,468.7 L1000.8,465.4 L1002.8,462.1 L1004.8,458.8 L1006.8,455.5 L1008.8,452.2 L1010.8,449.0 L1012.8,445.7 L1014.9,442.5 L1016.9,439.3 L1018.9,436.1 L1020.9,432.9 L1022.9,429.7 L1024.9,426.6 L1026.9,423.5 L1028.9,420.5 L1030.9,417.4 L1032.9,414.4 L1034.9,411.4 L1036.9,408.5 L1039.0,405.5 L1041.0,402.6 L1043.0,399.8 L1045.0,396.9 L1047.0,394.1 L1049.0,391.3 L1051.0,388.5 L1053.0,385.8 L1055.0,383.1 L1057.0,380.4 L1059.0,377.7 L1061.0,375.1 L1063.1,372.5 L1065.1,369.9 L1067.1,367.4 L1069.1,364.8 L1071.1,362.3 L1073.1,359.9 L1075.1,357.4 L1077.1,355.0 L1079.1,352.6 L1081.1,350.3 L1083.1,348.0 L1085.1,345.7 L1087.2,343.4 L1089.2,341.1 L1091.2,338.9 L1093.2,336.7 L1095.2,334.5 L1097.2,332.4 L1099.2,330.3 L1101.2,328.2 L1103.2,326.2 L1105.2,324.1 L1107.2,322.1 L1109.2,320.1 L1111.3,318.2 L1113.3,316.3 L1115.3,314.4 L1117.3,312.5 L1119.3,310.7 L1121.3,308.9 L1123.3,307.1 L1125.3,305.3 L1127.3,303.6 L1129.3,301.9 L1131.3,300.2 L1133.3,298.6 L1135.4,296.9 L1137.4,295.3 L1139.4,293.8 L1141.4,292.2 L1143.4,290.7 L1145.4,289.2 L1147.4,287.7 L1149.4,286.3 L1151.4,284.9 L1153.4,283.5 L1155.4,282.1 L1157.4,280.7 L1159.5,279.4 L1161.5,278.1 L1163.5,276.8 L1165.5,275.5 L1167.5,274.2 L1169.5,273.0 L1171.5,271.8 L1173.5,270.6 L1175.5,269.4 L1177.5,268.3 L1179.5,267.1 L1181.5,266.0 L1183.6,264.9 L1185.6,263.8 L1187.6,262.7 L1189.6,261.7 L1191.6,260.6 L1193.6,259.6 L1195.6,258.6 L1197.6,257.6 L1199.6,256.6 L1201.6,255.6 L1203.6,254.7 L1205.6,253.7 L1207.7,252.8 L1209.7,251.9 L1211.7,251.0 L1213.7,250.1 L1215.7,249.2 L1217.7,248.3 L1219.7,247.4 L1221.7,246.6 L1223.7,245.7 L1225.7,244.9 L1227.7,244.0 L1229.7,243.2 L1231.8,242.4 L1233.8,241.6 L1235.8,240.8 L1237.8,240.0 L1239.8,239.2 L1241.8,238.4 L1243.8,237.6 L1245.8,236.8 L1247.8,236.1 L1249.8,235.3 L1251.8,234.5 L1253.8,233.8 L1255.9,233.0 L1257.9,232.3 L1259.9,231.5 L1261.9,230.8 L1263.9,230.1 L1265.9,229.3 L1267.9,228.6 L1269.9,227.9 L1271.9,227.2 L1273.9,226.5 L1275.9,225.8 L1277.9,225.1 L1280.0,224.4 L1282.0,223.7 L1284.0,223.0 L1286.0,222.3 L1288.0,221.6 L1290.0,220.9 L1292.0,220.3 L1294.0,219.6 L1296.0,218.9 L1298.0,218.3 L1300.0,217.6 L1302.0,217.0 L1304.1,216.3 L1306.1,215.7 L1308.1,215.0 L1310.1,214.4 L1312.1,213.8 L1314.1,213.1 L1316.1,212.5 L1318.1,211.9 L1320.1,211.3 L1322.1,210.7 L1324.1,210.1 L1326.1,209.4 L1328.2,208.8 L1330.2,208.2 L1332.2,207.6 L1334.2,207.0 L1336.2,206.4 L1338.2,205.9 L1340.2,205.3 L1342.2,204.7 L1344.2,204.1 L1346.2,203.5 L1348.2,203.0 L1350.2,202.4 L1352.3,201.8 L1354.3,201.2 L1356.3,200.7 L1358.3,200.1 L1360.3,199.6 L1362.3,199.0 L1364.3,198.4 L1366.3,197.9 L1368.3,197.3 L1370.3,196.8 L1372.3,196.2 L1374.3,195.7 L1376.4,195.2 L1378.4,194.6 L1380.4,194.1 L1382.4,193.5 L1384.4,193.0 L1386.4,192.5 L1388.4,192.0 L1390.4,191.4 L1392.4,190.9 L1394.4,190.4 L1396.4,189.9 L1398.4,189.3 L1400.5,188.8 L1402.5,188.3 L1404.5,187.8 L1406.5,187.3 L1408.5,186.7 L1410.5,186.2 L1412.5,185.7 L1414.5,185.2 L1416.5,184.7 L1418.5,184.2 L1420.5,183.7 L1422.5,183.2 L1424.6,182.7 L1426.6,182.2 L1428.6,181.7 L1430.6,181.2 L1432.6,180.7 L1434.6,180.2 L1436.6,179.7 L1438.6,179.2 L1440.6,178.7 L1442.6,178.2 L1444.6,177.7 L1446.6,177.2 L1448.7,176.7 L1450.7,176.2 L1452.7,175.7 L1454.7,175.2 L1456.7,174.7 L1458.7,174.2 L1460.7,173.7 L1462.7,173.2 L1464.7,172.7 L1466.7,172.2 L1468.7,171.7 L1470.7,171.2 L1472.8,170.7 L1474.8,170.2 L1476.8,169.7 L1478.8,169.2 L1480.8,168.7 L1482.8,168.2 L1484.8,167.7 L1486.8,167.2 L1488.8,166.7 L1490.8,166.2 L1492.8,165.7 L1494.8,165.2 L1496.9,164.7 L1498.9,164.2 L1500.9,163.7 L1502.9,163.2 L1504.9,162.7 L1506.9,162.2 L1508.9,161.7 L1510.9,161.2 L1512.9,160.7 L1514.9,160.2 L1516.9,159.6 L1518.9,159.1 L1521.0,158.6 L1523.0,158.1 L1525.0,157.6 L1527.0,157.1 L1529.0,156.5 L1531.0,156.0 L1533.0,155.5" fill="none" stroke="#ff00ff" stroke-width="3.45" stroke-linejoin="round" stroke-linecap="round"/>
<path d="M946.60,36V547.7" stroke="#000" stroke-width="3.5" fill="none"/>
<path d="M944.85,538.9H1630.1" stroke="#000" stroke-width="3.5" fill="none"/>
<path d="M937.6,538.60H946.60" stroke="#000" stroke-width="3.5"/>
<text x="930.6" y="547.60" text-anchor="end" font-size="31">0</text>
<path d="M937.6,427.27H946.60" stroke="#000" stroke-width="3.5"/>
<text x="930.6" y="436.27" text-anchor="end" font-size="31">100</text>
<path d="M937.6,315.94H946.60" stroke="#000" stroke-width="3.5"/>
<text x="930.6" y="324.94" text-anchor="end" font-size="31">200</text>
<path d="M937.6,204.61H946.60" stroke="#000" stroke-width="3.5"/>
<text x="930.6" y="213.61" text-anchor="end" font-size="31">300</text>
<path d="M937.6,93.28H946.60" stroke="#000" stroke-width="3.5"/>
<text x="930.6" y="102.28" text-anchor="end" font-size="31">400</text>
<path d="M942.2,482.94H946.60" stroke="#000" stroke-width="3.5"/>
<path d="M942.2,371.61H946.60" stroke="#000" stroke-width="3.5"/>
<path d="M942.2,260.28H946.60" stroke="#000" stroke-width="3.5"/>
<path d="M942.2,148.95H946.60" stroke="#000" stroke-width="3.5"/>
<path d="M942.2,37.62H946.60" stroke="#000" stroke-width="3.5"/>
<path d="M946.60,538.9V547.7" stroke="#000" stroke-width="3.5"/>
<text x="946.60" y="578.5" text-anchor="middle" font-size="31">0</text>
<path d="M1082.96,538.9V547.7" stroke="#000" stroke-width="3.5"/>
<text x="1082.96" y="578.5" text-anchor="middle" font-size="31">1</text>
<path d="M1219.32,538.9V547.7" stroke="#000" stroke-width="3.5"/>
<text x="1219.32" y="578.5" text-anchor="middle" font-size="31">2</text>
<path d="M1355.68,538.9V547.7" stroke="#000" stroke-width="3.5"/>
<text x="1355.68" y="578.5" text-anchor="middle" font-size="31">3</text>
<path d="M1492.04,538.9V547.7" stroke="#000" stroke-width="3.5"/>
<text x="1492.04" y="578.5" text-anchor="middle" font-size="31">4</text>
<path d="M1628.35,538.9V547.7" stroke="#000" stroke-width="3.5"/>
<text x="1628.35" y="578.5" text-anchor="middle" font-size="31">5</text>
<path d="M1014.78,538.9V542.8" stroke="#000" stroke-width="3.5"/>
<path d="M1151.14,538.9V542.8" stroke="#000" stroke-width="3.5"/>
<path d="M1287.50,538.9V542.8" stroke="#000" stroke-width="3.5"/>
<path d="M1423.86,538.9V542.8" stroke="#000" stroke-width="3.5"/>
<path d="M1560.22,538.9V542.8" stroke="#000" stroke-width="3.5"/>
<text x="1287.4" y="619.5" text-anchor="middle" font-size="31">Strain (%)</text>
<text transform="translate(860.5,278.7) rotate(-90)" x="0" y="0" text-anchor="middle" font-size="31">Stress (MPa)</text>
<text x="840" y="34.6" font-size="40" style="stroke-width:0.15px">(b)</text>
<rect x="1471.3" y="336.3" width="141.4" height="184.3" fill="#fff" stroke="#555" stroke-width="1.3"/>
<path d="M1476,357.8H1546" stroke="#000" stroke-width="3.6" stroke-linecap="round"/>
<text x="1554.6" y="368.0" font-size="31" style="fill:#000;stroke:#000;stroke-width:0.4px">F<tspan font-size="21" dy="8.2">Et</tspan></text>
<path d="M1476,403.0H1546" stroke="#ff0000" stroke-width="3.6" stroke-linecap="round"/>
<text x="1554.6" y="413.2" font-size="31" style="fill:#ff0000;stroke:#ff0000;stroke-width:0.4px">F<tspan font-size="21" dy="8.2">Ac</tspan></text>
<path d="M1476,448.2H1546" stroke="#0000ff" stroke-width="3.6" stroke-linecap="round"/>
<text x="1554.6" y="458.4" font-size="31" style="fill:#0000ff;stroke:#0000ff;stroke-width:0.4px">F<tspan font-size="21" dy="8.2">HCl</tspan></text>
<path d="M1476,493.4H1546" stroke="#ff00ff" stroke-width="3.6" stroke-linecap="round"/>
<text x="1554.6" y="503.6" font-size="31" style="fill:#ff00ff;stroke:#ff00ff;stroke-width:0.4px">F<tspan font-size="21" dy="8.2">Ca</tspan></text>
</svg></body></html>
